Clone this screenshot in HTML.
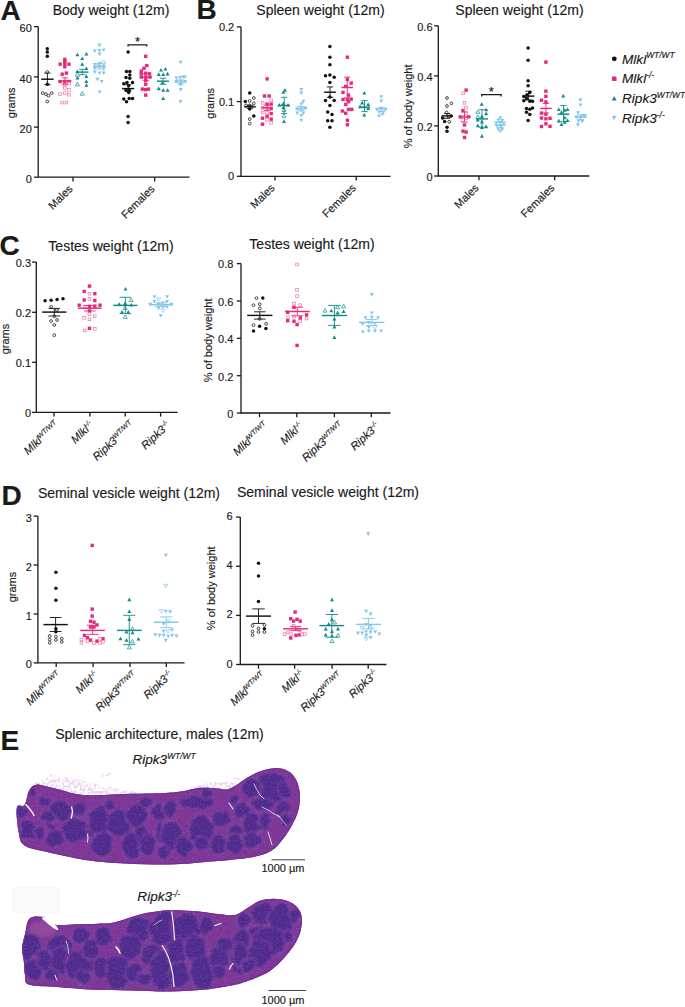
<!DOCTYPE html>
<html><head><meta charset="utf-8"><style>
html,body{margin:0;padding:0;background:#fff;}
svg{display:block;}
text{font-family:"Liberation Sans",sans-serif;stroke:#1a1a1a;stroke-width:0.15px;}
</style></head><body>
<svg width="685" height="1007" viewBox="0 0 685 1007">
<rect width="685" height="1007" fill="#fff"/>
<text x="0.5" y="19.6" font-size="28" text-anchor="start" font-weight="bold" font-style="normal" fill="#1a1a1a" >A</text>
<text x="196.5" y="19.0" font-size="28" text-anchor="start" font-weight="bold" font-style="normal" fill="#1a1a1a" >B</text>
<text x="-0.5" y="255.2" font-size="28" text-anchor="start" font-weight="bold" font-style="normal" fill="#1a1a1a" >C</text>
<text x="1.5" y="505" font-size="28" text-anchor="start" font-weight="bold" font-style="normal" fill="#1a1a1a" >D</text>
<text x="0.5" y="750" font-size="28" text-anchor="start" font-weight="bold" font-style="normal" fill="#1a1a1a" >E</text>
<text x="111" y="14.8" font-size="14" text-anchor="middle" font-weight="normal" font-style="normal" fill="#1a1a1a" >Body weight (12m)</text>
<text x="320.5" y="14.8" font-size="14" text-anchor="middle" font-weight="normal" font-style="normal" fill="#1a1a1a" >Spleen weight (12m)</text>
<text x="519.5" y="14.8" font-size="14" text-anchor="middle" font-weight="normal" font-style="normal" fill="#1a1a1a" >Spleen weight (12m)</text>
<text x="111" y="251" font-size="14" text-anchor="middle" font-weight="normal" font-style="normal" fill="#1a1a1a" >Testes weight (12m)</text>
<text x="312" y="249" font-size="14" text-anchor="middle" font-weight="normal" font-style="normal" fill="#1a1a1a" >Testes weight (12m)</text>
<text x="129" y="497.5" font-size="14" text-anchor="middle" font-weight="normal" font-style="normal" fill="#1a1a1a" >Seminal vesicle weight (12m)</text>
<text x="328" y="496.5" font-size="14" text-anchor="middle" font-weight="normal" font-style="normal" fill="#1a1a1a" >Seminal vesicle weight (12m)</text>
<text x="159.5" y="738.5" font-size="14" text-anchor="middle" font-weight="normal" font-style="normal" fill="#1a1a1a" >Splenic architecture, males (12m)</text>
<path d="M38.2 26.6V177.2H189.5" fill="none" stroke="#1a1a1a" stroke-width="1.3"/>
<path d="M34.0 26.6H38.2" stroke="#1a1a1a" stroke-width="1.3"/>
<text x="31.800000000000004" y="32.2" font-size="11" text-anchor="end" font-weight="normal" font-style="normal" fill="#1a1a1a" >60</text>
<path d="M34.0 76.9H38.2" stroke="#1a1a1a" stroke-width="1.3"/>
<text x="31.800000000000004" y="82.5" font-size="11" text-anchor="end" font-weight="normal" font-style="normal" fill="#1a1a1a" >40</text>
<path d="M34.0 127.1H38.2" stroke="#1a1a1a" stroke-width="1.3"/>
<text x="31.800000000000004" y="132.7" font-size="11" text-anchor="end" font-weight="normal" font-style="normal" fill="#1a1a1a" >20</text>
<path d="M34.0 177.2H38.2" stroke="#1a1a1a" stroke-width="1.3"/>
<text x="31.800000000000004" y="182.79999999999998" font-size="11" text-anchor="end" font-weight="normal" font-style="normal" fill="#1a1a1a" >0</text>
<path d="M73 177.2V181.39999999999998" stroke="#1a1a1a" stroke-width="1.3"/>
<path d="M154.7 177.2V181.39999999999998" stroke="#1a1a1a" stroke-width="1.3"/>
<text transform="translate(14.6,102.9) rotate(-90)" font-size="11" text-anchor="middle" fill="#1a1a1a">grams</text>
<text transform="translate(73.5,189.5) rotate(-45)" font-size="11" text-anchor="end" font-style="normal" fill="#1a1a1a">Males</text>
<text transform="translate(155.5,189.5) rotate(-45)" font-size="11" text-anchor="end" font-style="normal" fill="#1a1a1a">Females</text>
<path d="M241 26.9V176.3H390.5" fill="none" stroke="#1a1a1a" stroke-width="1.3"/>
<path d="M236.8 26.9H241" stroke="#1a1a1a" stroke-width="1.3"/>
<text x="234.2" y="30.799999999999997" font-size="11" text-anchor="end" font-weight="normal" font-style="normal" fill="#1a1a1a" >0.2</text>
<path d="M236.8 101.6H241" stroke="#1a1a1a" stroke-width="1.3"/>
<text x="234.2" y="105.5" font-size="11" text-anchor="end" font-weight="normal" font-style="normal" fill="#1a1a1a" >0.1</text>
<path d="M236.8 176.3H241" stroke="#1a1a1a" stroke-width="1.3"/>
<text x="234.2" y="180.20000000000002" font-size="11" text-anchor="end" font-weight="normal" font-style="normal" fill="#1a1a1a" >0</text>
<path d="M275 176.3V180.5" stroke="#1a1a1a" stroke-width="1.3"/>
<path d="M356.2 176.3V180.5" stroke="#1a1a1a" stroke-width="1.3"/>
<text transform="translate(213.9,103.4) rotate(-90)" font-size="11" text-anchor="middle" fill="#1a1a1a">grams</text>
<text transform="translate(275.5,188.5) rotate(-45)" font-size="11" text-anchor="end" font-style="normal" fill="#1a1a1a">Males</text>
<text transform="translate(356.7,188.5) rotate(-45)" font-size="11" text-anchor="end" font-style="normal" fill="#1a1a1a">Females</text>
<path d="M438.3 25.8V176H589.3" fill="none" stroke="#1a1a1a" stroke-width="1.3"/>
<path d="M434.1 25.8H438.3" stroke="#1a1a1a" stroke-width="1.3"/>
<text x="432.5" y="30.8" font-size="11" text-anchor="end" font-weight="normal" font-style="normal" fill="#1a1a1a" >0.6</text>
<path d="M434.1 75.9H438.3" stroke="#1a1a1a" stroke-width="1.3"/>
<text x="432.5" y="80.9" font-size="11" text-anchor="end" font-weight="normal" font-style="normal" fill="#1a1a1a" >0.4</text>
<path d="M434.1 125.9H438.3" stroke="#1a1a1a" stroke-width="1.3"/>
<text x="432.5" y="130.9" font-size="11" text-anchor="end" font-weight="normal" font-style="normal" fill="#1a1a1a" >0.2</text>
<path d="M434.1 176H438.3" stroke="#1a1a1a" stroke-width="1.3"/>
<text x="432.5" y="181.0" font-size="11" text-anchor="end" font-weight="normal" font-style="normal" fill="#1a1a1a" >0</text>
<path d="M479 176V180.2" stroke="#1a1a1a" stroke-width="1.3"/>
<path d="M554.7 176V180.2" stroke="#1a1a1a" stroke-width="1.3"/>
<text transform="translate(412,106.4) rotate(-90)" font-size="11" text-anchor="middle" fill="#1a1a1a">% of body weight</text>
<text transform="translate(479.5,188.5) rotate(-45)" font-size="11" text-anchor="end" font-style="normal" fill="#1a1a1a">Males</text>
<text transform="translate(555.2,188.5) rotate(-45)" font-size="11" text-anchor="end" font-style="normal" fill="#1a1a1a">Females</text>
<circle cx="614.3" cy="58.8" r="2.4" fill="#111"/>
<rect x="612" y="76.5" width="4.5" height="4.5" fill="#e6297a"/>
<path d="M614.2 96L616.6 100.6H611.8Z" fill="#138a8b"/>
<path d="M614.2 120.2L616.6 115.8H611.8Z" fill="#84c6e6"/>
<text x="622" y="63.7" font-size="13.6" font-style="italic" fill="#1a1a1a">Mlkl<tspan font-size="8.4" dy="-5.5">WT/WT</tspan></text>
<text x="622" y="83.4" font-size="13.6" font-style="italic" fill="#1a1a1a">Mlkl<tspan font-size="8.4" dy="-5.5">-/-</tspan></text>
<text x="622" y="103.2" font-size="13.6" font-style="italic" fill="#1a1a1a">Ripk3<tspan font-size="8.4" dy="-5.5">WT/WT</tspan></text>
<text x="622" y="123" font-size="13.6" font-style="italic" fill="#1a1a1a">Ripk3<tspan font-size="8.4" dy="-5.5">-/-</tspan></text>
<path d="M36.3 262.1V412.4H177.6" fill="none" stroke="#1a1a1a" stroke-width="1.3"/>
<path d="M32.099999999999994 262.1H36.3" stroke="#1a1a1a" stroke-width="1.3"/>
<text x="31.0" y="267.1" font-size="11" text-anchor="end" font-weight="normal" font-style="normal" fill="#1a1a1a" >0.3</text>
<path d="M32.099999999999994 312.3H36.3" stroke="#1a1a1a" stroke-width="1.3"/>
<text x="31.0" y="317.3" font-size="11" text-anchor="end" font-weight="normal" font-style="normal" fill="#1a1a1a" >0.2</text>
<path d="M32.099999999999994 362.3H36.3" stroke="#1a1a1a" stroke-width="1.3"/>
<text x="31.0" y="367.3" font-size="11" text-anchor="end" font-weight="normal" font-style="normal" fill="#1a1a1a" >0.1</text>
<path d="M32.099999999999994 412.4H36.3" stroke="#1a1a1a" stroke-width="1.3"/>
<text x="31.0" y="417.4" font-size="11" text-anchor="end" font-weight="normal" font-style="normal" fill="#1a1a1a" >0</text>
<path d="M54 412.4V416.59999999999997" stroke="#1a1a1a" stroke-width="1.3"/>
<path d="M89.9 412.4V416.59999999999997" stroke="#1a1a1a" stroke-width="1.3"/>
<path d="M125.2 412.4V416.59999999999997" stroke="#1a1a1a" stroke-width="1.3"/>
<path d="M160.6 412.4V416.59999999999997" stroke="#1a1a1a" stroke-width="1.3"/>
<text transform="translate(8.7,339) rotate(-90)" font-size="11" text-anchor="middle" fill="#1a1a1a">grams</text>
<text transform="translate(59.5,426) rotate(-43)" font-size="11.2" text-anchor="end" font-style="italic" fill="#1a1a1a">Mlkl<tspan font-size="6.8" dy="-4.2">WT/WT</tspan></text>
<text transform="translate(94.4,426) rotate(-43)" font-size="11.2" text-anchor="end" font-style="italic" fill="#1a1a1a">Mlkl<tspan font-size="6.8" dy="-4.2">-/-</tspan></text>
<text transform="translate(134.7,426) rotate(-43)" font-size="11.2" text-anchor="end" font-style="italic" fill="#1a1a1a">Ripk3<tspan font-size="6.8" dy="-4.2">WT/WT</tspan></text>
<text transform="translate(171.1,426) rotate(-43)" font-size="11.2" text-anchor="end" font-style="italic" fill="#1a1a1a">Ripk3<tspan font-size="6.8" dy="-4.2">-/-</tspan></text>
<path d="M241 263.6V413H390.5" fill="none" stroke="#1a1a1a" stroke-width="1.3"/>
<path d="M236.8 263.6H241" stroke="#1a1a1a" stroke-width="1.3"/>
<text x="233.39999999999998" y="268.40000000000003" font-size="11" text-anchor="end" font-weight="normal" font-style="normal" fill="#1a1a1a" >0.8</text>
<path d="M236.8 301H241" stroke="#1a1a1a" stroke-width="1.3"/>
<text x="233.39999999999998" y="305.8" font-size="11" text-anchor="end" font-weight="normal" font-style="normal" fill="#1a1a1a" >0.6</text>
<path d="M236.8 338.3H241" stroke="#1a1a1a" stroke-width="1.3"/>
<text x="233.39999999999998" y="343.1" font-size="11" text-anchor="end" font-weight="normal" font-style="normal" fill="#1a1a1a" >0.4</text>
<path d="M236.8 375.7H241" stroke="#1a1a1a" stroke-width="1.3"/>
<text x="233.39999999999998" y="380.5" font-size="11" text-anchor="end" font-weight="normal" font-style="normal" fill="#1a1a1a" >0.2</text>
<path d="M236.8 413H241" stroke="#1a1a1a" stroke-width="1.3"/>
<text x="233.39999999999998" y="417.8" font-size="11" text-anchor="end" font-weight="normal" font-style="normal" fill="#1a1a1a" >0</text>
<path d="M259.5 413V417.2" stroke="#1a1a1a" stroke-width="1.3"/>
<path d="M296.8 413V417.2" stroke="#1a1a1a" stroke-width="1.3"/>
<path d="M334.4 413V417.2" stroke="#1a1a1a" stroke-width="1.3"/>
<path d="M371.3 413V417.2" stroke="#1a1a1a" stroke-width="1.3"/>
<text transform="translate(212,340.4) rotate(-90)" font-size="11" text-anchor="middle" fill="#1a1a1a">% of body weight</text>
<text transform="translate(268.7,427) rotate(-43)" font-size="11.2" text-anchor="end" font-style="italic" fill="#1a1a1a">Mlkl<tspan font-size="6.8" dy="-4.2">WT/WT</tspan></text>
<text transform="translate(303.8,427) rotate(-43)" font-size="11.2" text-anchor="end" font-style="italic" fill="#1a1a1a">Mlkl<tspan font-size="6.8" dy="-4.2">-/-</tspan></text>
<text transform="translate(343.9,427) rotate(-43)" font-size="11.2" text-anchor="end" font-style="italic" fill="#1a1a1a">Ripk3<tspan font-size="6.8" dy="-4.2">WT/WT</tspan></text>
<text transform="translate(380.3,427) rotate(-43)" font-size="11.2" text-anchor="end" font-style="italic" fill="#1a1a1a">Ripk3<tspan font-size="6.8" dy="-4.2">-/-</tspan></text>
<path d="M37.9 516.1V662.9H184.6" fill="none" stroke="#1a1a1a" stroke-width="1.3"/>
<path d="M33.699999999999996 516.1H37.9" stroke="#1a1a1a" stroke-width="1.3"/>
<text x="31.8" y="521.6" font-size="11" text-anchor="end" font-weight="normal" font-style="normal" fill="#1a1a1a" >3</text>
<path d="M33.699999999999996 565H37.9" stroke="#1a1a1a" stroke-width="1.3"/>
<text x="31.8" y="570.5" font-size="11" text-anchor="end" font-weight="normal" font-style="normal" fill="#1a1a1a" >2</text>
<path d="M33.699999999999996 614H37.9" stroke="#1a1a1a" stroke-width="1.3"/>
<text x="31.8" y="619.5" font-size="11" text-anchor="end" font-weight="normal" font-style="normal" fill="#1a1a1a" >1</text>
<path d="M33.699999999999996 662.9H37.9" stroke="#1a1a1a" stroke-width="1.3"/>
<text x="31.8" y="668.4" font-size="11" text-anchor="end" font-weight="normal" font-style="normal" fill="#1a1a1a" >0</text>
<path d="M56.2 662.9V667.1" stroke="#1a1a1a" stroke-width="1.3"/>
<path d="M93.1 662.9V667.1" stroke="#1a1a1a" stroke-width="1.3"/>
<path d="M130 662.9V667.1" stroke="#1a1a1a" stroke-width="1.3"/>
<path d="M166.3 662.9V667.1" stroke="#1a1a1a" stroke-width="1.3"/>
<text transform="translate(16.2,587) rotate(-90)" font-size="11" text-anchor="middle" fill="#1a1a1a">grams</text>
<text transform="translate(61.7,676.5) rotate(-43)" font-size="11.2" text-anchor="end" font-style="italic" fill="#1a1a1a">Mlkl<tspan font-size="6.8" dy="-4.2">WT/WT</tspan></text>
<text transform="translate(99.1,676) rotate(-43)" font-size="11.2" text-anchor="end" font-style="italic" fill="#1a1a1a">Mlkl<tspan font-size="6.8" dy="-4.2">-/-</tspan></text>
<text transform="translate(137.5,676.5) rotate(-43)" font-size="11.2" text-anchor="end" font-style="italic" fill="#1a1a1a">Ripk3<tspan font-size="6.8" dy="-4.2">WT/WT</tspan></text>
<text transform="translate(173.3,675.5) rotate(-43)" font-size="11.2" text-anchor="end" font-style="italic" fill="#1a1a1a">Ripk3<tspan font-size="6.8" dy="-4.2">-/-</tspan></text>
<path d="M240.3 517.1V664.5H386.4" fill="none" stroke="#1a1a1a" stroke-width="1.3"/>
<path d="M236.10000000000002 517.1H240.3" stroke="#1a1a1a" stroke-width="1.3"/>
<text x="232.7" y="520.1" font-size="11" text-anchor="end" font-weight="normal" font-style="normal" fill="#1a1a1a" >6</text>
<path d="M236.10000000000002 566.25H240.3" stroke="#1a1a1a" stroke-width="1.3"/>
<text x="232.7" y="569.25" font-size="11" text-anchor="end" font-weight="normal" font-style="normal" fill="#1a1a1a" >4</text>
<path d="M236.10000000000002 615.4H240.3" stroke="#1a1a1a" stroke-width="1.3"/>
<text x="232.7" y="618.4" font-size="11" text-anchor="end" font-weight="normal" font-style="normal" fill="#1a1a1a" >2</text>
<path d="M236.10000000000002 664.5H240.3" stroke="#1a1a1a" stroke-width="1.3"/>
<text x="232.7" y="667.5" font-size="11" text-anchor="end" font-weight="normal" font-style="normal" fill="#1a1a1a" >0</text>
<path d="M258.5 664.5V668.7" stroke="#1a1a1a" stroke-width="1.3"/>
<path d="M294.6 664.5V668.7" stroke="#1a1a1a" stroke-width="1.3"/>
<path d="M332.1 664.5V668.7" stroke="#1a1a1a" stroke-width="1.3"/>
<path d="M368.2 664.5V668.7" stroke="#1a1a1a" stroke-width="1.3"/>
<text transform="translate(214.5,588.3) rotate(-90)" font-size="11" text-anchor="middle" fill="#1a1a1a">% of body weight</text>
<text transform="translate(266.0,677) rotate(-43)" font-size="11.2" text-anchor="end" font-style="italic" fill="#1a1a1a">Mlkl<tspan font-size="6.8" dy="-4.2">WT/WT</tspan></text>
<text transform="translate(305.1,675) rotate(-43)" font-size="11.2" text-anchor="end" font-style="italic" fill="#1a1a1a">Mlkl<tspan font-size="6.8" dy="-4.2">-/-</tspan></text>
<text transform="translate(342.6,677) rotate(-43)" font-size="11.2" text-anchor="end" font-style="italic" fill="#1a1a1a">Ripk3<tspan font-size="6.8" dy="-4.2">WT/WT</tspan></text>
<text transform="translate(378.7,674.5) rotate(-43)" font-size="11.2" text-anchor="end" font-style="italic" fill="#1a1a1a">Ripk3<tspan font-size="6.8" dy="-4.2">-/-</tspan></text>
<circle cx="47.3" cy="48.7" r="1.75" fill="#111"/>
<circle cx="47.3" cy="52.1" r="1.75" fill="#111"/>
<circle cx="47.3" cy="56.3" r="1.75" fill="#111"/>
<circle cx="47.3" cy="84.2" r="1.75" fill="#111"/>
<circle cx="47.3" cy="72.1" r="1.40" fill="#fff" stroke="#111" stroke-width="0.75"/>
<circle cx="42.7" cy="93.1" r="1.40" fill="#fff" stroke="#111" stroke-width="0.75"/>
<circle cx="45.9" cy="94.1" r="1.40" fill="#fff" stroke="#111" stroke-width="0.75"/>
<circle cx="48.5" cy="95.7" r="1.40" fill="#fff" stroke="#111" stroke-width="0.75"/>
<circle cx="51.7" cy="93.1" r="1.40" fill="#fff" stroke="#111" stroke-width="0.75"/>
<circle cx="47.3" cy="101.5" r="1.40" fill="#fff" stroke="#111" stroke-width="0.75"/>
<path d="M41.2 79.2H53.6" stroke="#111" stroke-width="1.45"/>
<path d="M47.400000000000006 73.1V84.7M44.2 73.1H50.60000000000001M44.2 84.7H50.60000000000001" stroke="#111" stroke-width="0.9" fill="none"/>
<rect x="63.1" y="57.7" width="3.4" height="3.4" fill="#e6297a"/>
<rect x="63.1" y="59.8" width="3.4" height="3.4" fill="#e6297a"/>
<rect x="58.4" y="62.5" width="3.4" height="3.4" fill="#e6297a"/>
<rect x="63.1" y="62.5" width="3.4" height="3.4" fill="#e6297a"/>
<rect x="67.3" y="62.5" width="3.4" height="3.4" fill="#e6297a"/>
<rect x="63.1" y="65.1" width="3.4" height="3.4" fill="#e6297a"/>
<rect x="60.5" y="72.5" width="3.4" height="3.4" fill="#e6297a"/>
<rect x="64.7" y="71.4" width="3.4" height="3.4" fill="#e6297a"/>
<rect x="58.4" y="79.8" width="3.4" height="3.4" fill="#e6297a"/>
<rect x="63.1" y="79.8" width="3.4" height="3.4" fill="#e6297a"/>
<rect x="67.3" y="79.8" width="3.4" height="3.4" fill="#e6297a"/>
<rect x="63.4" y="83.2" width="2.7" height="2.7" fill="#fff" stroke="#ee72a4" stroke-width="0.7"/>
<rect x="67.6" y="82.2" width="2.7" height="2.7" fill="#fff" stroke="#ee72a4" stroke-width="0.7"/>
<rect x="63.4" y="86.6" width="2.7" height="2.7" fill="#fff" stroke="#ee72a4" stroke-width="0.7"/>
<rect x="67.6" y="88.6" width="2.7" height="2.7" fill="#fff" stroke="#ee72a4" stroke-width="0.7"/>
<rect x="58.7" y="92.7" width="2.7" height="2.7" fill="#fff" stroke="#ee72a4" stroke-width="0.7"/>
<rect x="63.4" y="91.7" width="2.7" height="2.7" fill="#fff" stroke="#ee72a4" stroke-width="0.7"/>
<rect x="67.6" y="93.3" width="2.7" height="2.7" fill="#fff" stroke="#ee72a4" stroke-width="0.7"/>
<rect x="60.8" y="101.2" width="2.7" height="2.7" fill="#fff" stroke="#ee72a4" stroke-width="0.7"/>
<rect x="65.0" y="101.2" width="2.7" height="2.7" fill="#fff" stroke="#ee72a4" stroke-width="0.7"/>
<path d="M58.5 81H71.5" stroke="#e6297a" stroke-width="1.45"/>
<path d="M65.0 77.8V84.2M61.8 77.8H68.2M61.8 84.2H68.2" stroke="#e6297a" stroke-width="0.9" fill="none"/>
<path d="M77.4 52.7L79.4 56.3L75.4 56.3Z" fill="#138a8b"/>
<path d="M86.4 52.0L88.4 55.6L84.4 55.6Z" fill="#138a8b"/>
<path d="M82.2 56.4L84.2 60.0L80.2 60.0Z" fill="#138a8b"/>
<path d="M82.2 62.2L84.2 65.8L80.2 65.8Z" fill="#138a8b"/>
<path d="M86.4 66.4L88.4 70.0L84.4 70.0Z" fill="#138a8b"/>
<path d="M77.4 69.5L79.4 73.1L75.4 73.1Z" fill="#138a8b"/>
<path d="M86.4 74.3L88.4 77.9L84.4 77.9Z" fill="#138a8b"/>
<path d="M77.4 75.8L79.4 79.4L75.4 79.4Z" fill="#138a8b"/>
<path d="M86.4 79.5L88.4 83.1L84.4 83.1Z" fill="#138a8b"/>
<path d="M86.4 83.2L88.4 86.8L84.4 86.8Z" fill="#138a8b"/>
<path d="M77.4 72.6L79.4 76.2L75.4 76.2Z" fill="#fff" stroke="#138a8b" stroke-width="0.7"/>
<path d="M77.4 82.2L79.4 85.8L75.4 85.8Z" fill="#fff" stroke="#138a8b" stroke-width="0.7"/>
<path d="M82.2 91.6L84.2 95.2L80.2 95.2Z" fill="#fff" stroke="#138a8b" stroke-width="0.7"/>
<path d="M76.2 72.1H88.5" stroke="#138a8b" stroke-width="1.45"/>
<path d="M82.35 69.4V74.7M79.14999999999999 69.4H85.55M79.14999999999999 74.7H85.55" stroke="#138a8b" stroke-width="0.9" fill="none"/>
<path d="M99.5 47.2L101.5 43.6L97.5 43.6Z" fill="#84c6e6"/>
<path d="M94.8 53.0L96.8 49.4L92.8 49.4Z" fill="#84c6e6"/>
<path d="M99.5 52.5L101.5 48.9L97.5 48.9Z" fill="#84c6e6"/>
<path d="M103.7 52.0L105.7 48.4L101.7 48.4Z" fill="#84c6e6"/>
<path d="M99.5 56.2L101.5 52.6L97.5 52.6Z" fill="#84c6e6"/>
<path d="M94.8 66.7L96.8 63.1L92.8 63.1Z" fill="#84c6e6"/>
<path d="M99.5 65.6L101.5 62.0L97.5 62.0Z" fill="#84c6e6"/>
<path d="M103.7 66.7L105.7 63.1L101.7 63.1Z" fill="#84c6e6"/>
<path d="M94.8 70.4L96.8 66.8L92.8 66.8Z" fill="#84c6e6"/>
<path d="M103.7 70.9L105.7 67.3L101.7 67.3Z" fill="#84c6e6"/>
<path d="M94.8 74.1L96.8 70.5L92.8 70.5Z" fill="#84c6e6"/>
<path d="M99.5 75.1L101.5 71.5L97.5 71.5Z" fill="#84c6e6"/>
<path d="M103.7 75.1L105.7 71.5L101.7 71.5Z" fill="#84c6e6"/>
<path d="M97.4 81.4L99.4 77.8L95.4 77.8Z" fill="#84c6e6"/>
<path d="M101.6 83.5L103.6 79.9L99.6 79.9Z" fill="#84c6e6"/>
<path d="M99.5 94.0L101.5 90.4L97.5 90.4Z" fill="#84c6e6"/>
<path d="M103.7 64.6L105.7 61.0L101.7 61.0Z" fill="#fff" stroke="#84c6e6" stroke-width="0.7"/>
<path d="M99.5 69.0L101.5 65.4L97.5 65.4Z" fill="#fff" stroke="#84c6e6" stroke-width="0.7"/>
<path d="M96.5 68.0L98.5 64.4L94.5 64.4Z" fill="#fff" stroke="#84c6e6" stroke-width="0.7"/>
<path d="M93.3 66.3H105.7" stroke="#84c6e6" stroke-width="1.45"/>
<path d="M99.5 63.6V68.9M96.3 63.6H102.7M96.3 68.9H102.7" stroke="#84c6e6" stroke-width="0.9" fill="none"/>
<circle cx="128.1" cy="51.9" r="1.75" fill="#111"/>
<circle cx="126.5" cy="71.6" r="1.75" fill="#111"/>
<circle cx="129.8" cy="71.6" r="1.75" fill="#111"/>
<circle cx="129.8" cy="74.9" r="1.75" fill="#111"/>
<circle cx="126.0" cy="77.6" r="1.75" fill="#111"/>
<circle cx="129.8" cy="78.2" r="1.75" fill="#111"/>
<circle cx="123.8" cy="83.7" r="1.75" fill="#111"/>
<circle cx="127.0" cy="82.6" r="1.75" fill="#111"/>
<circle cx="132.5" cy="82.6" r="1.75" fill="#111"/>
<circle cx="128.7" cy="85.8" r="1.75" fill="#111"/>
<circle cx="126.0" cy="90.2" r="1.75" fill="#111"/>
<circle cx="129.2" cy="90.2" r="1.75" fill="#111"/>
<circle cx="128.7" cy="92.4" r="1.75" fill="#111"/>
<circle cx="123.8" cy="99.0" r="1.75" fill="#111"/>
<circle cx="129.2" cy="98.4" r="1.75" fill="#111"/>
<circle cx="132.5" cy="98.4" r="1.75" fill="#111"/>
<circle cx="126.5" cy="101.7" r="1.75" fill="#111"/>
<circle cx="128.1" cy="116.5" r="1.75" fill="#111"/>
<circle cx="128.1" cy="122.5" r="1.75" fill="#111"/>
<path d="M122.1 88.6H134.2" stroke="#111" stroke-width="1.45"/>
<path d="M128.14999999999998 84.7V91.3M124.94999999999997 84.7H131.34999999999997M124.94999999999997 91.3H131.34999999999997" stroke="#111" stroke-width="0.9" fill="none"/>
<rect x="144.0" y="54.6" width="3.4" height="3.4" fill="#e6297a"/>
<rect x="145.1" y="63.9" width="3.4" height="3.4" fill="#e6297a"/>
<rect x="142.3" y="66.6" width="3.4" height="3.4" fill="#e6297a"/>
<rect x="139.6" y="69.4" width="3.4" height="3.4" fill="#e6297a"/>
<rect x="139.6" y="72.1" width="3.4" height="3.4" fill="#e6297a"/>
<rect x="144.0" y="71.5" width="3.4" height="3.4" fill="#e6297a"/>
<rect x="147.8" y="72.1" width="3.4" height="3.4" fill="#e6297a"/>
<rect x="139.6" y="75.4" width="3.4" height="3.4" fill="#e6297a"/>
<rect x="144.0" y="75.4" width="3.4" height="3.4" fill="#e6297a"/>
<rect x="148.3" y="75.4" width="3.4" height="3.4" fill="#e6297a"/>
<rect x="144.0" y="78.7" width="3.4" height="3.4" fill="#e6297a"/>
<rect x="144.0" y="82.5" width="3.4" height="3.4" fill="#e6297a"/>
<rect x="140.7" y="87.4" width="3.4" height="3.4" fill="#e6297a"/>
<rect x="144.0" y="88.0" width="3.4" height="3.4" fill="#e6297a"/>
<rect x="146.7" y="87.4" width="3.4" height="3.4" fill="#e6297a"/>
<rect x="144.0" y="93.4" width="3.4" height="3.4" fill="#e6297a"/>
<path d="M140.5 77.1H151.5" stroke="#e6297a" stroke-width="1.45"/>
<path d="M146.0 73.8V80.4M142.8 73.8H149.2M142.8 80.4H149.2" stroke="#e6297a" stroke-width="0.9" fill="none"/>
<path d="M161.0 68.0L163.0 71.6L159.0 71.6Z" fill="#138a8b"/>
<path d="M165.4 66.9L167.4 70.5L163.4 70.5Z" fill="#138a8b"/>
<path d="M158.8 72.3L160.8 75.9L156.8 75.9Z" fill="#138a8b"/>
<path d="M163.2 72.3L165.2 75.9L161.2 75.9Z" fill="#138a8b"/>
<path d="M167.6 71.8L169.6 75.4L165.6 75.4Z" fill="#138a8b"/>
<path d="M162.6 80.6L164.6 84.2L160.6 84.2Z" fill="#138a8b"/>
<path d="M158.8 86.6L160.8 90.2L156.8 90.2Z" fill="#138a8b"/>
<path d="M163.2 88.2L165.2 91.8L161.2 91.8Z" fill="#138a8b"/>
<path d="M167.6 88.2L169.6 91.8L165.6 91.8Z" fill="#138a8b"/>
<path d="M163.2 96.4L165.2 100.0L161.2 100.0Z" fill="#138a8b"/>
<path d="M157 81.2H169" stroke="#138a8b" stroke-width="1.45"/>
<path d="M163.0 78.2V84.2M159.8 78.2H166.2M159.8 84.2H166.2" stroke="#138a8b" stroke-width="0.9" fill="none"/>
<path d="M180.5 64.3L182.5 60.7L178.5 60.7Z" fill="#84c6e6"/>
<path d="M176.3 80.2L178.3 76.6L174.3 76.6Z" fill="#84c6e6"/>
<path d="M180.0 79.5L182.0 75.9L178.0 75.9Z" fill="#84c6e6"/>
<path d="M182.9 79.1L184.9 75.5L180.9 75.5Z" fill="#84c6e6"/>
<path d="M185.0 79.1L187.0 75.5L183.0 75.5Z" fill="#84c6e6"/>
<path d="M176.3 83.5L178.3 79.9L174.3 79.9Z" fill="#84c6e6"/>
<path d="M180.7 83.5L182.7 79.9L178.7 79.9Z" fill="#84c6e6"/>
<path d="M185.0 83.5L187.0 79.9L183.0 79.9Z" fill="#84c6e6"/>
<path d="M180.7 86.7L182.7 83.1L178.7 83.1Z" fill="#84c6e6"/>
<path d="M180.7 91.7L182.7 88.1L178.7 88.1Z" fill="#84c6e6"/>
<path d="M180.5 103.7L182.5 100.1L178.5 100.1Z" fill="#84c6e6"/>
<path d="M174.5 82H186.5" stroke="#84c6e6" stroke-width="1.45"/>
<path d="M180.5 79.8V84.2M177.3 79.8H183.7M177.3 84.2H183.7" stroke="#84c6e6" stroke-width="0.9" fill="none"/>
<path d="M128.1 46.599999999999994V44.8H146.8V46.599999999999994" fill="none" stroke="#1a1a1a" stroke-width="1.3"/>
<text x="137.45" y="46.099999999999994" font-size="13" text-anchor="middle" font-weight="normal" font-style="normal" fill="#1a1a1a" >*</text>
<circle cx="249.7" cy="92.9" r="1.75" fill="#111"/>
<circle cx="245.3" cy="101.4" r="1.75" fill="#111"/>
<circle cx="249.7" cy="109.0" r="1.75" fill="#111"/>
<circle cx="253.8" cy="116.0" r="1.75" fill="#111"/>
<circle cx="253.8" cy="98.0" r="1.40" fill="#fff" stroke="#111" stroke-width="0.75"/>
<circle cx="249.7" cy="100.9" r="1.40" fill="#fff" stroke="#111" stroke-width="0.75"/>
<circle cx="253.8" cy="103.4" r="1.40" fill="#fff" stroke="#111" stroke-width="0.75"/>
<circle cx="246.1" cy="105.5" r="1.40" fill="#fff" stroke="#111" stroke-width="0.75"/>
<circle cx="249.7" cy="105.5" r="1.40" fill="#fff" stroke="#111" stroke-width="0.75"/>
<circle cx="249.7" cy="119.1" r="1.40" fill="#fff" stroke="#111" stroke-width="0.75"/>
<circle cx="249.7" cy="123.6" r="1.40" fill="#fff" stroke="#111" stroke-width="0.75"/>
<path d="M244.1 106.8H255.8" stroke="#111" stroke-width="1.45"/>
<path d="M249.95 105.3V108.3M246.75 105.3H253.14999999999998M246.75 108.3H253.14999999999998" stroke="#111" stroke-width="0.9" fill="none"/>
<rect x="265.4" y="77.2" width="3.4" height="3.4" fill="#e6297a"/>
<rect x="262.8" y="94.3" width="3.4" height="3.4" fill="#e6297a"/>
<rect x="267.4" y="94.3" width="3.4" height="3.4" fill="#e6297a"/>
<rect x="265.4" y="102.4" width="3.4" height="3.4" fill="#e6297a"/>
<rect x="269.5" y="102.4" width="3.4" height="3.4" fill="#e6297a"/>
<rect x="269.5" y="106.8" width="3.4" height="3.4" fill="#e6297a"/>
<rect x="269.5" y="111.9" width="3.4" height="3.4" fill="#e6297a"/>
<rect x="265.4" y="114.5" width="3.4" height="3.4" fill="#e6297a"/>
<rect x="260.8" y="116.5" width="3.4" height="3.4" fill="#e6297a"/>
<rect x="269.5" y="117.4" width="3.4" height="3.4" fill="#e6297a"/>
<rect x="260.8" y="122.5" width="3.4" height="3.4" fill="#e6297a"/>
<rect x="269.8" y="99.0" width="2.7" height="2.7" fill="#fff" stroke="#ee72a4" stroke-width="0.7"/>
<rect x="261.3" y="101.5" width="2.7" height="2.7" fill="#fff" stroke="#ee72a4" stroke-width="0.7"/>
<rect x="261.3" y="106.6" width="2.7" height="2.7" fill="#fff" stroke="#ee72a4" stroke-width="0.7"/>
<rect x="265.7" y="107.1" width="2.7" height="2.7" fill="#fff" stroke="#ee72a4" stroke-width="0.7"/>
<rect x="261.3" y="111.2" width="2.7" height="2.7" fill="#fff" stroke="#ee72a4" stroke-width="0.7"/>
<rect x="265.7" y="111.2" width="2.7" height="2.7" fill="#fff" stroke="#ee72a4" stroke-width="0.7"/>
<rect x="265.7" y="118.4" width="2.7" height="2.7" fill="#fff" stroke="#ee72a4" stroke-width="0.7"/>
<rect x="269.8" y="121.4" width="2.7" height="2.7" fill="#fff" stroke="#ee72a4" stroke-width="0.7"/>
<path d="M261.5 107.8H273" stroke="#e6297a" stroke-width="1.45"/>
<path d="M267.25 105V110.6M264.05 105H270.45M264.05 110.6H270.45" stroke="#e6297a" stroke-width="0.9" fill="none"/>
<path d="M285.0 88.1L287.0 91.7L283.0 91.7Z" fill="#138a8b"/>
<path d="M283.4 90.2L285.4 93.8L281.4 93.8Z" fill="#138a8b"/>
<path d="M283.4 101.4L285.4 105.0L281.4 105.0Z" fill="#138a8b"/>
<path d="M279.3 103.0L281.3 106.6L277.3 106.6Z" fill="#138a8b"/>
<path d="M288.0 103.0L290.0 106.6L286.0 106.6Z" fill="#138a8b"/>
<path d="M283.4 105.5L285.4 109.1L281.4 109.1Z" fill="#138a8b"/>
<path d="M284.0 119.3L286.0 122.9L282.0 122.9Z" fill="#138a8b"/>
<path d="M284.0 113.7L286.0 117.3L282.0 117.3Z" fill="#fff" stroke="#138a8b" stroke-width="0.7"/>
<path d="M284.0 108.0L286.0 111.6L282.0 111.6Z" fill="#fff" stroke="#138a8b" stroke-width="0.7"/>
<path d="M278.5 105.5H290" stroke="#138a8b" stroke-width="1.45"/>
<path d="M284.25 97.3V113.6M281.05 97.3H287.45M281.05 113.6H287.45" stroke="#138a8b" stroke-width="0.9" fill="none"/>
<path d="M301.3 91.6L303.3 88.0L299.3 88.0Z" fill="#84c6e6"/>
<path d="M301.3 95.2L303.3 91.6L299.3 91.6Z" fill="#84c6e6"/>
<path d="M303.4 103.4L305.4 99.8L301.4 99.8Z" fill="#84c6e6"/>
<path d="M301.3 106.0L303.3 102.4L299.3 102.4Z" fill="#84c6e6"/>
<path d="M297.2 111.0L299.2 107.4L295.2 107.4Z" fill="#84c6e6"/>
<path d="M305.4 110.0L307.4 106.4L303.4 106.4Z" fill="#84c6e6"/>
<path d="M303.4 115.1L305.4 111.5L301.4 111.5Z" fill="#84c6e6"/>
<path d="M297.2 115.1L299.2 111.5L295.2 111.5Z" fill="#84c6e6"/>
<path d="M301.3 117.7L303.3 114.1L299.3 114.1Z" fill="#84c6e6"/>
<path d="M301.3 122.3L303.3 118.7L299.3 118.7Z" fill="#84c6e6"/>
<path d="M299.3 110.0L301.3 106.4L297.3 106.4Z" fill="#fff" stroke="#84c6e6" stroke-width="0.7"/>
<path d="M302.5 110.0L304.5 106.4L300.5 106.4Z" fill="#fff" stroke="#84c6e6" stroke-width="0.7"/>
<path d="M301.3 112.1L303.3 108.5L299.3 108.5Z" fill="#fff" stroke="#84c6e6" stroke-width="0.7"/>
<path d="M295.5 108.5H307" stroke="#84c6e6" stroke-width="1.45"/>
<path d="M301.25 106.5V110.6M298.05 106.5H304.45M298.05 110.6H304.45" stroke="#84c6e6" stroke-width="0.9" fill="none"/>
<circle cx="329.9" cy="46.6" r="1.75" fill="#111"/>
<circle cx="329.9" cy="57.2" r="1.75" fill="#111"/>
<circle cx="329.9" cy="64.8" r="1.75" fill="#111"/>
<circle cx="325.5" cy="75.8" r="1.75" fill="#111"/>
<circle cx="329.9" cy="74.9" r="1.75" fill="#111"/>
<circle cx="334.2" cy="77.3" r="1.75" fill="#111"/>
<circle cx="329.9" cy="82.6" r="1.75" fill="#111"/>
<circle cx="329.9" cy="97.0" r="1.75" fill="#111"/>
<circle cx="325.5" cy="100.6" r="1.75" fill="#111"/>
<circle cx="334.2" cy="100.6" r="1.75" fill="#111"/>
<circle cx="329.9" cy="105.5" r="1.75" fill="#111"/>
<circle cx="327.7" cy="112.1" r="1.75" fill="#111"/>
<circle cx="332.0" cy="114.5" r="1.75" fill="#111"/>
<circle cx="327.7" cy="120.7" r="1.75" fill="#111"/>
<circle cx="332.0" cy="120.7" r="1.75" fill="#111"/>
<circle cx="329.9" cy="127.2" r="1.75" fill="#111"/>
<path d="M324.2 92.2H335.9" stroke="#111" stroke-width="1.45"/>
<path d="M330.04999999999995 86.9V97.3M326.84999999999997 86.9H333.24999999999994M326.84999999999997 97.3H333.24999999999994" stroke="#111" stroke-width="0.9" fill="none"/>
<rect x="345.7" y="55.5" width="3.4" height="3.4" fill="#e6297a"/>
<rect x="345.7" y="77.8" width="3.4" height="3.4" fill="#e6297a"/>
<rect x="349.5" y="81.4" width="3.4" height="3.4" fill="#e6297a"/>
<rect x="344.0" y="84.7" width="3.4" height="3.4" fill="#e6297a"/>
<rect x="341.3" y="90.7" width="3.4" height="3.4" fill="#e6297a"/>
<rect x="346.8" y="93.4" width="3.4" height="3.4" fill="#e6297a"/>
<rect x="341.3" y="97.8" width="3.4" height="3.4" fill="#e6297a"/>
<rect x="345.7" y="97.8" width="3.4" height="3.4" fill="#e6297a"/>
<rect x="349.5" y="97.5" width="3.4" height="3.4" fill="#e6297a"/>
<rect x="344.0" y="102.8" width="3.4" height="3.4" fill="#e6297a"/>
<rect x="346.8" y="100.0" width="3.4" height="3.4" fill="#e6297a"/>
<rect x="340.7" y="109.3" width="3.4" height="3.4" fill="#e6297a"/>
<rect x="346.8" y="107.7" width="3.4" height="3.4" fill="#e6297a"/>
<rect x="350.1" y="107.7" width="3.4" height="3.4" fill="#e6297a"/>
<rect x="344.0" y="111.5" width="3.4" height="3.4" fill="#e6297a"/>
<rect x="345.7" y="118.6" width="3.4" height="3.4" fill="#e6297a"/>
<rect x="345.7" y="123.0" width="3.4" height="3.4" fill="#e6297a"/>
<path d="M341.5 87.5H353" stroke="#e6297a" stroke-width="1.45"/>
<path d="M347.25 77.1V97.9M344.05 77.1H350.45M344.05 97.9H350.45" stroke="#e6297a" stroke-width="0.9" fill="none"/>
<path d="M364.3 91.0L366.3 94.6L362.3 94.6Z" fill="#138a8b"/>
<path d="M362.2 100.8L364.2 104.4L360.2 104.4Z" fill="#138a8b"/>
<path d="M368.2 102.5L370.2 106.1L366.2 106.1Z" fill="#138a8b"/>
<path d="M360.0 104.6L362.0 108.2L358.0 108.2Z" fill="#138a8b"/>
<path d="M364.3 104.6L366.3 108.2L362.3 108.2Z" fill="#138a8b"/>
<path d="M368.2 106.3L370.2 109.9L366.2 109.9Z" fill="#138a8b"/>
<path d="M364.3 112.9L366.3 116.5L362.3 116.5Z" fill="#138a8b"/>
<path d="M359 107.2H370" stroke="#138a8b" stroke-width="1.45"/>
<path d="M364.5 100.6V111.6M361.3 100.6H367.7M361.3 111.6H367.7" stroke="#138a8b" stroke-width="0.9" fill="none"/>
<path d="M381.3 98.8L383.3 95.2L379.3 95.2Z" fill="#84c6e6"/>
<path d="M381.3 103.2L383.3 99.6L379.3 99.6Z" fill="#84c6e6"/>
<path d="M376.9 111.4L378.9 107.8L374.9 107.8Z" fill="#84c6e6"/>
<path d="M381.3 110.8L383.3 107.2L379.3 107.2Z" fill="#84c6e6"/>
<path d="M385.7 111.4L387.7 107.8L383.7 107.8Z" fill="#84c6e6"/>
<path d="M379.1 114.1L381.1 110.5L377.1 110.5Z" fill="#84c6e6"/>
<path d="M383.5 114.1L385.5 110.5L381.5 110.5Z" fill="#84c6e6"/>
<path d="M379.1 118.0L381.1 114.4L377.1 114.4Z" fill="#84c6e6"/>
<path d="M382.4 116.3L384.4 112.7L380.4 112.7Z" fill="#84c6e6"/>
<path d="M376 108.8H387" stroke="#84c6e6" stroke-width="1.45"/>
<path d="M381.5 107.2V111.6M378.3 107.2H384.7M378.3 111.6H384.7" stroke="#84c6e6" stroke-width="0.9" fill="none"/>
<circle cx="447.0" cy="98.0" r="1.40" fill="#fff" stroke="#111" stroke-width="0.75"/>
<circle cx="451.4" cy="103.4" r="1.40" fill="#fff" stroke="#111" stroke-width="0.75"/>
<circle cx="447.0" cy="106.0" r="1.40" fill="#fff" stroke="#111" stroke-width="0.75"/>
<circle cx="446.6" cy="112.6" r="1.40" fill="#fff" stroke="#111" stroke-width="0.75"/>
<circle cx="449.2" cy="116.4" r="1.40" fill="#fff" stroke="#111" stroke-width="0.75"/>
<circle cx="449.2" cy="121.8" r="1.40" fill="#fff" stroke="#111" stroke-width="0.75"/>
<circle cx="442.6" cy="117.9" r="1.75" fill="#111"/>
<circle cx="444.6" cy="121.5" r="1.75" fill="#111"/>
<circle cx="447.0" cy="127.3" r="1.75" fill="#111"/>
<circle cx="447.0" cy="131.2" r="1.75" fill="#111"/>
<circle cx="451.2" cy="115.9" r="1.75" fill="#111"/>
<path d="M441.5 115.9H452.8" stroke="#111" stroke-width="1.45"/>
<path d="M447.15 113.5V118.3M443.95 113.5H450.34999999999997M443.95 118.3H450.34999999999997" stroke="#111" stroke-width="0.9" fill="none"/>
<rect x="464.4" y="88.4" width="3.4" height="3.4" fill="#e6297a"/>
<rect x="461.3" y="108.9" width="3.4" height="3.4" fill="#e6297a"/>
<rect x="458.7" y="115.2" width="3.4" height="3.4" fill="#e6297a"/>
<rect x="466.9" y="115.2" width="3.4" height="3.4" fill="#e6297a"/>
<rect x="462.8" y="123.2" width="3.4" height="3.4" fill="#e6297a"/>
<rect x="461.3" y="129.5" width="3.4" height="3.4" fill="#e6297a"/>
<rect x="464.4" y="130.3" width="3.4" height="3.4" fill="#e6297a"/>
<rect x="462.8" y="135.8" width="3.4" height="3.4" fill="#e6297a"/>
<rect x="461.9" y="92.0" width="2.7" height="2.7" fill="#fff" stroke="#ee72a4" stroke-width="0.7"/>
<rect x="463.1" y="101.4" width="2.7" height="2.7" fill="#fff" stroke="#ee72a4" stroke-width="0.7"/>
<rect x="464.7" y="106.3" width="2.7" height="2.7" fill="#fff" stroke="#ee72a4" stroke-width="0.7"/>
<rect x="464.7" y="111.9" width="2.7" height="2.7" fill="#fff" stroke="#ee72a4" stroke-width="0.7"/>
<rect x="461.6" y="115.5" width="2.7" height="2.7" fill="#fff" stroke="#ee72a4" stroke-width="0.7"/>
<rect x="464.7" y="117.0" width="2.7" height="2.7" fill="#fff" stroke="#ee72a4" stroke-width="0.7"/>
<rect x="461.6" y="118.6" width="2.7" height="2.7" fill="#fff" stroke="#ee72a4" stroke-width="0.7"/>
<path d="M458.5 116.9H470.5" stroke="#e6297a" stroke-width="1.45"/>
<path d="M464.5 112V122M461.3 112H467.7M461.3 122H467.7" stroke="#e6297a" stroke-width="0.9" fill="none"/>
<path d="M481.7 102.1L483.7 105.7L479.7 105.7Z" fill="#138a8b"/>
<path d="M486.2 107.7L488.2 111.3L484.2 111.3Z" fill="#138a8b"/>
<path d="M486.2 111.6L488.2 115.2L484.2 115.2Z" fill="#138a8b"/>
<path d="M481.9 114.4L483.9 118.0L479.9 118.0Z" fill="#138a8b"/>
<path d="M477.8 117.8L479.8 121.4L475.8 121.4Z" fill="#138a8b"/>
<path d="M481.9 119.8L483.9 123.4L479.9 123.4Z" fill="#138a8b"/>
<path d="M477.8 123.6L479.8 127.2L475.8 127.2Z" fill="#138a8b"/>
<path d="M481.9 125.3L483.9 128.9L479.9 128.9Z" fill="#138a8b"/>
<path d="M486.2 124.6L488.2 128.2L484.2 128.2Z" fill="#138a8b"/>
<path d="M481.9 134.1L483.9 137.7L479.9 137.7Z" fill="#138a8b"/>
<path d="M477.8 109.8L479.8 113.4L475.8 113.4Z" fill="#fff" stroke="#138a8b" stroke-width="0.7"/>
<path d="M477.8 114.9L479.8 118.5L475.8 118.5Z" fill="#fff" stroke="#138a8b" stroke-width="0.7"/>
<path d="M476 118.9H488" stroke="#138a8b" stroke-width="1.45"/>
<path d="M482.0 109.7V127.3M478.8 109.7H485.2M478.8 127.3H485.2" stroke="#138a8b" stroke-width="0.9" fill="none"/>
<path d="M500.3 119.9L502.3 116.3L498.3 116.3Z" fill="#84c6e6"/>
<path d="M498.2 122.0L500.2 118.4L496.2 118.4Z" fill="#84c6e6"/>
<path d="M502.3 122.5L504.3 118.9L500.3 118.9Z" fill="#84c6e6"/>
<path d="M496.2 125.0L498.2 121.4L494.2 121.4Z" fill="#84c6e6"/>
<path d="M500.3 124.5L502.3 120.9L498.3 120.9Z" fill="#84c6e6"/>
<path d="M503.9 125.0L505.9 121.4L501.9 121.4Z" fill="#84c6e6"/>
<path d="M497.2 128.1L499.2 124.5L495.2 124.5Z" fill="#84c6e6"/>
<path d="M501.3 128.1L503.3 124.5L499.3 124.5Z" fill="#84c6e6"/>
<path d="M498.2 131.2L500.2 127.6L496.2 127.6Z" fill="#84c6e6"/>
<path d="M502.3 131.2L504.3 127.6L500.3 127.6Z" fill="#84c6e6"/>
<path d="M500.3 133.2L502.3 129.6L498.3 129.6Z" fill="#84c6e6"/>
<path d="M494.5 125.1H506" stroke="#84c6e6" stroke-width="1.45"/>
<path d="M500.25 122.5V127.7M497.05 122.5H503.45M497.05 127.7H503.45" stroke="#84c6e6" stroke-width="0.9" fill="none"/>
<path d="M481.7 96.39999999999999V94.6H501.1V96.39999999999999" fill="none" stroke="#1a1a1a" stroke-width="1.3"/>
<text x="491.4" y="95.89999999999999" font-size="13" text-anchor="middle" font-weight="normal" font-style="normal" fill="#1a1a1a" >*</text>
<circle cx="528.1" cy="47.9" r="1.75" fill="#111"/>
<circle cx="528.1" cy="60.3" r="1.75" fill="#111"/>
<circle cx="528.1" cy="80.7" r="1.75" fill="#111"/>
<circle cx="528.1" cy="85.8" r="1.75" fill="#111"/>
<circle cx="529.8" cy="92.6" r="1.75" fill="#111"/>
<circle cx="523.8" cy="96.4" r="1.75" fill="#111"/>
<circle cx="527.0" cy="94.7" r="1.75" fill="#111"/>
<circle cx="526.5" cy="98.6" r="1.75" fill="#111"/>
<circle cx="523.8" cy="100.8" r="1.75" fill="#111"/>
<circle cx="529.8" cy="101.3" r="1.75" fill="#111"/>
<circle cx="532.5" cy="101.3" r="1.75" fill="#111"/>
<circle cx="532.5" cy="107.9" r="1.75" fill="#111"/>
<circle cx="526.5" cy="108.4" r="1.75" fill="#111"/>
<circle cx="529.8" cy="109.2" r="1.75" fill="#111"/>
<circle cx="526.5" cy="112.3" r="1.75" fill="#111"/>
<circle cx="529.8" cy="114.5" r="1.75" fill="#111"/>
<circle cx="528.1" cy="120.5" r="1.75" fill="#111"/>
<path d="M522.7 96.1H534.5" stroke="#111" stroke-width="1.45"/>
<path d="M528.6 91.2V100M525.4 91.2H531.8000000000001M525.4 100H531.8000000000001" stroke="#111" stroke-width="0.9" fill="none"/>
<rect x="544.2" y="60.4" width="3.4" height="3.4" fill="#e6297a"/>
<rect x="544.2" y="89.5" width="3.4" height="3.4" fill="#e6297a"/>
<rect x="544.2" y="94.7" width="3.4" height="3.4" fill="#e6297a"/>
<rect x="539.8" y="98.5" width="3.4" height="3.4" fill="#e6297a"/>
<rect x="544.2" y="100.2" width="3.4" height="3.4" fill="#e6297a"/>
<rect x="539.8" y="111.4" width="3.4" height="3.4" fill="#e6297a"/>
<rect x="544.2" y="112.5" width="3.4" height="3.4" fill="#e6297a"/>
<rect x="539.8" y="116.3" width="3.4" height="3.4" fill="#e6297a"/>
<rect x="544.2" y="117.1" width="3.4" height="3.4" fill="#e6297a"/>
<rect x="548.3" y="116.6" width="3.4" height="3.4" fill="#e6297a"/>
<rect x="544.2" y="122.1" width="3.4" height="3.4" fill="#e6297a"/>
<rect x="539.8" y="124.8" width="3.4" height="3.4" fill="#e6297a"/>
<rect x="548.3" y="124.6" width="3.4" height="3.4" fill="#e6297a"/>
<path d="M540.2 108.4H551.7" stroke="#e6297a" stroke-width="1.45"/>
<path d="M545.95 103.5V113.1M542.75 103.5H549.1500000000001M542.75 113.1H549.1500000000001" stroke="#e6297a" stroke-width="0.9" fill="none"/>
<path d="M563.2 93.8L565.2 97.4L561.2 97.4Z" fill="#138a8b"/>
<path d="M558.8 107.5L560.8 111.1L556.8 111.1Z" fill="#138a8b"/>
<path d="M564.8 108.1L566.8 111.7L562.8 111.7Z" fill="#138a8b"/>
<path d="M567.6 107.5L569.6 111.1L565.6 111.1Z" fill="#138a8b"/>
<path d="M561.5 110.3L563.5 113.9L559.5 113.9Z" fill="#138a8b"/>
<path d="M564.8 115.7L566.8 119.3L562.8 119.3Z" fill="#138a8b"/>
<path d="M558.8 118.8L560.8 122.4L556.8 122.4Z" fill="#138a8b"/>
<path d="M567.6 118.5L569.6 122.1L565.6 122.1Z" fill="#138a8b"/>
<path d="M564.8 120.1L566.8 123.7L562.8 123.7Z" fill="#138a8b"/>
<path d="M561.5 122.3L563.5 125.9L559.5 125.9Z" fill="#138a8b"/>
<path d="M557.5 114.2H569.5" stroke="#138a8b" stroke-width="1.45"/>
<path d="M563.5 105.5V121.6M560.3 105.5H566.7M560.3 121.6H566.7" stroke="#138a8b" stroke-width="0.9" fill="none"/>
<path d="M580.5 102.2L582.5 98.6L578.5 98.6Z" fill="#84c6e6"/>
<path d="M580.5 107.1L582.5 103.5L578.5 103.5Z" fill="#84c6e6"/>
<path d="M578.0 114.8L580.0 111.2L576.0 111.2Z" fill="#84c6e6"/>
<path d="M582.9 117.6L584.9 114.0L580.9 114.0Z" fill="#84c6e6"/>
<path d="M576.3 119.2L578.3 115.6L574.3 115.6Z" fill="#84c6e6"/>
<path d="M580.5 119.2L582.5 115.6L578.5 115.6Z" fill="#84c6e6"/>
<path d="M585.1 118.1L587.1 114.5L583.1 114.5Z" fill="#84c6e6"/>
<path d="M578.5 123.0L580.5 119.4L576.5 119.4Z" fill="#84c6e6"/>
<path d="M582.3 123.6L584.3 120.0L580.3 120.0Z" fill="#84c6e6"/>
<path d="M578.0 126.9L580.0 123.3L576.0 123.3Z" fill="#84c6e6"/>
<path d="M575 117.2H586.5" stroke="#84c6e6" stroke-width="1.45"/>
<path d="M580.75 115V119.5M577.55 115H583.95M577.55 119.5H583.95" stroke="#84c6e6" stroke-width="0.9" fill="none"/>
<circle cx="45.1" cy="300.8" r="1.75" fill="#111"/>
<circle cx="51.1" cy="300.2" r="1.75" fill="#111"/>
<circle cx="57.1" cy="299.6" r="1.75" fill="#111"/>
<circle cx="63.0" cy="298.7" r="1.75" fill="#111"/>
<circle cx="51.1" cy="306.8" r="1.40" fill="#fff" stroke="#111" stroke-width="0.75"/>
<circle cx="56.9" cy="310.0" r="1.40" fill="#fff" stroke="#111" stroke-width="0.75"/>
<circle cx="54.3" cy="316.3" r="1.40" fill="#fff" stroke="#111" stroke-width="0.75"/>
<circle cx="51.1" cy="321.0" r="1.40" fill="#fff" stroke="#111" stroke-width="0.75"/>
<circle cx="57.1" cy="320.0" r="1.40" fill="#fff" stroke="#111" stroke-width="0.75"/>
<circle cx="54.3" cy="325.0" r="1.40" fill="#fff" stroke="#111" stroke-width="0.75"/>
<circle cx="54.3" cy="335.2" r="1.40" fill="#fff" stroke="#111" stroke-width="0.75"/>
<path d="M42.2 312.1H66.4" stroke="#111" stroke-width="1.45"/>
<path d="M54.300000000000004 308.4V316M48.50000000000001 308.4H60.1M48.50000000000001 316H60.1" stroke="#111" stroke-width="0.9" fill="none"/>
<rect x="87.8" y="284.4" width="3.4" height="3.4" fill="#e6297a"/>
<rect x="82.5" y="289.7" width="3.4" height="3.4" fill="#e6297a"/>
<rect x="93.1" y="292.0" width="3.4" height="3.4" fill="#e6297a"/>
<rect x="82.5" y="298.3" width="3.4" height="3.4" fill="#e6297a"/>
<rect x="93.1" y="298.8" width="3.4" height="3.4" fill="#e6297a"/>
<rect x="77.5" y="303.5" width="3.4" height="3.4" fill="#e6297a"/>
<rect x="87.8" y="304.6" width="3.4" height="3.4" fill="#e6297a"/>
<rect x="93.1" y="304.4" width="3.4" height="3.4" fill="#e6297a"/>
<rect x="98.3" y="303.5" width="3.4" height="3.4" fill="#e6297a"/>
<rect x="87.8" y="309.3" width="3.4" height="3.4" fill="#e6297a"/>
<rect x="87.8" y="326.6" width="3.4" height="3.4" fill="#e6297a"/>
<rect x="88.1" y="292.3" width="2.7" height="2.7" fill="#fff" stroke="#ee72a4" stroke-width="0.7"/>
<rect x="88.1" y="297.5" width="2.7" height="2.7" fill="#fff" stroke="#ee72a4" stroke-width="0.7"/>
<rect x="83.4" y="305.4" width="2.7" height="2.7" fill="#fff" stroke="#ee72a4" stroke-width="0.7"/>
<rect x="88.1" y="312.8" width="2.7" height="2.7" fill="#fff" stroke="#ee72a4" stroke-width="0.7"/>
<rect x="93.4" y="314.9" width="2.7" height="2.7" fill="#fff" stroke="#ee72a4" stroke-width="0.7"/>
<rect x="82.8" y="316.4" width="2.7" height="2.7" fill="#fff" stroke="#ee72a4" stroke-width="0.7"/>
<rect x="88.1" y="318.0" width="2.7" height="2.7" fill="#fff" stroke="#ee72a4" stroke-width="0.7"/>
<rect x="93.4" y="327.5" width="2.7" height="2.7" fill="#fff" stroke="#ee72a4" stroke-width="0.7"/>
<rect x="83.4" y="329.1" width="2.7" height="2.7" fill="#fff" stroke="#ee72a4" stroke-width="0.7"/>
<path d="M78 308.2H101.6" stroke="#e6297a" stroke-width="1.45"/>
<path d="M89.8 305.5V311M84.0 305.5H95.6M84.0 311H95.6" stroke="#e6297a" stroke-width="0.9" fill="none"/>
<path d="M125.5 286.9L127.5 290.5L123.5 290.5Z" fill="#138a8b"/>
<path d="M119.2 302.2L121.2 305.8L117.2 305.8Z" fill="#138a8b"/>
<path d="M125.2 301.3L127.2 304.9L123.2 304.9Z" fill="#138a8b"/>
<path d="M131.3 303.0L133.3 306.6L129.3 306.6Z" fill="#138a8b"/>
<path d="M122.0 310.1L124.0 313.7L120.0 313.7Z" fill="#138a8b"/>
<path d="M128.3 310.1L130.3 313.7L126.3 313.7Z" fill="#138a8b"/>
<path d="M131.1 298.0L133.1 301.6L129.1 301.6Z" fill="#fff" stroke="#138a8b" stroke-width="0.7"/>
<path d="M125.2 305.9L127.2 309.5L123.2 309.5Z" fill="#fff" stroke="#138a8b" stroke-width="0.7"/>
<path d="M125.2 314.8L127.2 318.4L123.2 318.4Z" fill="#fff" stroke="#138a8b" stroke-width="0.7"/>
<path d="M113.2 305.4H137.4" stroke="#138a8b" stroke-width="1.45"/>
<path d="M125.30000000000001 297.3V313.6M119.50000000000001 297.3H131.10000000000002M119.50000000000001 313.6H131.10000000000002" stroke="#138a8b" stroke-width="0.9" fill="none"/>
<path d="M154.4 298.8L156.4 295.2L152.4 295.2Z" fill="#84c6e6"/>
<path d="M167.0 298.8L169.0 295.2L165.0 295.2Z" fill="#84c6e6"/>
<path d="M154.4 303.5L156.4 299.9L152.4 299.9Z" fill="#84c6e6"/>
<path d="M167.0 303.5L169.0 299.9L165.0 299.9Z" fill="#84c6e6"/>
<path d="M150.2 306.4L152.2 302.8L148.2 302.8Z" fill="#84c6e6"/>
<path d="M158.6 306.4L160.6 302.8L156.6 302.8Z" fill="#84c6e6"/>
<path d="M162.8 305.1L164.8 301.5L160.8 301.5Z" fill="#84c6e6"/>
<path d="M171.2 306.4L173.2 302.8L169.2 302.8Z" fill="#84c6e6"/>
<path d="M158.6 310.2L160.6 306.6L156.6 306.6Z" fill="#84c6e6"/>
<path d="M162.8 308.8L164.8 305.2L160.8 305.2Z" fill="#84c6e6"/>
<path d="M167.0 309.1L169.0 305.5L165.0 305.5Z" fill="#84c6e6"/>
<path d="M160.7 317.7L162.7 314.1L158.7 314.1Z" fill="#84c6e6"/>
<path d="M158.6 301.4L160.6 297.8L156.6 297.8Z" fill="#fff" stroke="#84c6e6" stroke-width="0.7"/>
<path d="M162.8 312.5L164.8 308.9L160.8 308.9Z" fill="#fff" stroke="#84c6e6" stroke-width="0.7"/>
<path d="M149.2 304.7H172.8" stroke="#84c6e6" stroke-width="1.45"/>
<path d="M161.0 302.8V306.6M155.2 302.8H166.8M155.2 306.6H166.8" stroke="#84c6e6" stroke-width="0.9" fill="none"/>
<circle cx="256.5" cy="298.1" r="1.40" fill="#fff" stroke="#111" stroke-width="0.75"/>
<circle cx="253.5" cy="305.2" r="1.40" fill="#fff" stroke="#111" stroke-width="0.75"/>
<circle cx="259.8" cy="304.2" r="1.40" fill="#fff" stroke="#111" stroke-width="0.75"/>
<circle cx="259.8" cy="308.4" r="1.40" fill="#fff" stroke="#111" stroke-width="0.75"/>
<circle cx="259.6" cy="318.9" r="1.40" fill="#fff" stroke="#111" stroke-width="0.75"/>
<circle cx="253.5" cy="325.2" r="1.40" fill="#fff" stroke="#111" stroke-width="0.75"/>
<circle cx="266.1" cy="323.8" r="1.40" fill="#fff" stroke="#111" stroke-width="0.75"/>
<circle cx="262.8" cy="298.1" r="1.75" fill="#111"/>
<circle cx="259.6" cy="326.3" r="1.75" fill="#111"/>
<circle cx="265.9" cy="328.4" r="1.75" fill="#111"/>
<circle cx="253.5" cy="330.9" r="1.75" fill="#111"/>
<path d="M247.2 315.4H272.4" stroke="#111" stroke-width="1.45"/>
<path d="M259.79999999999995 311.8V319.1M253.99999999999994 311.8H265.59999999999997M253.99999999999994 319.1H265.59999999999997" stroke="#111" stroke-width="0.9" fill="none"/>
<rect x="295.7" y="263.1" width="2.7" height="2.7" fill="#fff" stroke="#ee72a4" stroke-width="0.7"/>
<rect x="295.7" y="288.5" width="2.7" height="2.7" fill="#fff" stroke="#ee72a4" stroke-width="0.7"/>
<rect x="295.7" y="294.8" width="2.7" height="2.7" fill="#fff" stroke="#ee72a4" stroke-width="0.7"/>
<rect x="292.6" y="302.2" width="2.7" height="2.7" fill="#fff" stroke="#ee72a4" stroke-width="0.7"/>
<rect x="298.9" y="303.8" width="2.7" height="2.7" fill="#fff" stroke="#ee72a4" stroke-width="0.7"/>
<rect x="286.8" y="315.8" width="2.7" height="2.7" fill="#fff" stroke="#ee72a4" stroke-width="0.7"/>
<rect x="292.6" y="315.1" width="2.7" height="2.7" fill="#fff" stroke="#ee72a4" stroke-width="0.7"/>
<rect x="298.9" y="319.8" width="2.7" height="2.7" fill="#fff" stroke="#ee72a4" stroke-width="0.7"/>
<rect x="305.2" y="317.2" width="2.7" height="2.7" fill="#fff" stroke="#ee72a4" stroke-width="0.7"/>
<rect x="292.3" y="305.6" width="3.4" height="3.4" fill="#e6297a"/>
<rect x="286.0" y="310.6" width="3.4" height="3.4" fill="#e6297a"/>
<rect x="304.9" y="313.2" width="3.4" height="3.4" fill="#e6297a"/>
<rect x="298.6" y="316.2" width="3.4" height="3.4" fill="#e6297a"/>
<rect x="286.0" y="319.0" width="3.4" height="3.4" fill="#e6297a"/>
<rect x="292.3" y="319.5" width="3.4" height="3.4" fill="#e6297a"/>
<rect x="295.4" y="322.9" width="3.4" height="3.4" fill="#e6297a"/>
<rect x="295.4" y="343.7" width="3.4" height="3.4" fill="#e6297a"/>
<path d="M285 311.5H309.7" stroke="#e6297a" stroke-width="1.45"/>
<path d="M297.35 307.3V315.8M291.55 307.3H303.15000000000003M291.55 315.8H303.15000000000003" stroke="#e6297a" stroke-width="0.9" fill="none"/>
<path d="M325.0 308.5L327.0 312.1L323.0 312.1Z" fill="#fff" stroke="#138a8b" stroke-width="0.7"/>
<path d="M337.6 305.1L339.6 308.7L335.6 308.7Z" fill="#fff" stroke="#138a8b" stroke-width="0.7"/>
<path d="M343.6 304.3L345.6 307.9L341.6 307.9Z" fill="#fff" stroke="#138a8b" stroke-width="0.7"/>
<path d="M331.3 308.7L333.3 312.3L329.3 312.3Z" fill="#138a8b"/>
<path d="M337.6 310.8L339.6 314.4L335.6 314.4Z" fill="#138a8b"/>
<path d="M343.6 309.3L345.6 312.9L341.6 312.9Z" fill="#138a8b"/>
<path d="M334.4 316.9L336.4 320.5L332.4 320.5Z" fill="#138a8b"/>
<path d="M334.4 324.8L336.4 328.4L332.4 328.4Z" fill="#138a8b"/>
<path d="M334.4 335.3L336.4 338.9L332.4 338.9Z" fill="#138a8b"/>
<path d="M321.8 315.5H347.1" stroke="#138a8b" stroke-width="1.45"/>
<path d="M334.45000000000005 305.4V325.4M328.15000000000003 305.4H340.75000000000006M328.15000000000003 325.4H340.75000000000006" stroke="#138a8b" stroke-width="0.9" fill="none"/>
<path d="M371.8 296.7L373.8 293.1L369.8 293.1Z" fill="#84c6e6"/>
<path d="M371.8 315.1L373.8 311.5L369.8 311.5Z" fill="#84c6e6"/>
<path d="M365.5 319.8L367.5 316.2L363.5 316.2Z" fill="#84c6e6"/>
<path d="M371.8 319.3L373.8 315.7L369.8 315.7Z" fill="#84c6e6"/>
<path d="M378.1 319.8L380.1 316.2L376.1 316.2Z" fill="#84c6e6"/>
<path d="M362.8 326.1L364.8 322.5L360.8 322.5Z" fill="#84c6e6"/>
<path d="M368.8 324.6L370.8 321.0L366.8 321.0Z" fill="#84c6e6"/>
<path d="M374.9 325.6L376.9 322.0L372.9 322.0Z" fill="#84c6e6"/>
<path d="M368.8 329.3L370.8 325.7L366.8 325.7Z" fill="#84c6e6"/>
<path d="M368.8 333.0L370.8 329.4L366.8 329.4Z" fill="#84c6e6"/>
<path d="M374.9 333.0L376.9 329.4L372.9 329.4Z" fill="#84c6e6"/>
<path d="M381.2 333.0L383.2 329.4L379.2 329.4Z" fill="#84c6e6"/>
<path d="M362.8 334.0L364.8 330.4L360.8 330.4Z" fill="#84c6e6"/>
<path d="M374.9 329.3L376.9 325.7L372.9 325.7Z" fill="#fff" stroke="#84c6e6" stroke-width="0.7"/>
<path d="M359.1 322.4H384.4" stroke="#84c6e6" stroke-width="1.45"/>
<path d="M371.75 319.5V325.5M365.95 319.5H377.55M365.95 325.5H377.55" stroke="#84c6e6" stroke-width="0.9" fill="none"/>
<circle cx="55.9" cy="572.2" r="1.75" fill="#111"/>
<circle cx="55.9" cy="588.3" r="1.75" fill="#111"/>
<circle cx="55.9" cy="600.2" r="1.75" fill="#111"/>
<circle cx="55.9" cy="628.8" r="1.75" fill="#111"/>
<circle cx="55.9" cy="631.8" r="1.75" fill="#111"/>
<circle cx="49.7" cy="636.0" r="1.40" fill="#fff" stroke="#111" stroke-width="0.75"/>
<circle cx="49.7" cy="639.5" r="1.40" fill="#fff" stroke="#111" stroke-width="0.75"/>
<circle cx="49.7" cy="642.8" r="1.40" fill="#fff" stroke="#111" stroke-width="0.75"/>
<circle cx="55.9" cy="636.6" r="1.40" fill="#fff" stroke="#111" stroke-width="0.75"/>
<circle cx="55.9" cy="639.9" r="1.40" fill="#fff" stroke="#111" stroke-width="0.75"/>
<circle cx="61.8" cy="638.7" r="1.40" fill="#fff" stroke="#111" stroke-width="0.75"/>
<circle cx="61.8" cy="641.9" r="1.40" fill="#fff" stroke="#111" stroke-width="0.75"/>
<path d="M43.4 624.6H67.8" stroke="#111" stroke-width="1.45"/>
<path d="M55.599999999999994 617.5V631.5M49.699999999999996 617.5H61.49999999999999M49.699999999999996 631.5H61.49999999999999" stroke="#111" stroke-width="0.9" fill="none"/>
<rect x="90.5" y="543.7" width="3.4" height="3.4" fill="#e6297a"/>
<rect x="90.5" y="607.4" width="3.4" height="3.4" fill="#e6297a"/>
<rect x="90.5" y="614.4" width="3.4" height="3.4" fill="#e6297a"/>
<rect x="88.8" y="619.6" width="3.4" height="3.4" fill="#e6297a"/>
<rect x="92.3" y="620.5" width="3.4" height="3.4" fill="#e6297a"/>
<rect x="95.3" y="623.2" width="3.4" height="3.4" fill="#e6297a"/>
<rect x="88.8" y="625.3" width="3.4" height="3.4" fill="#e6297a"/>
<rect x="92.3" y="625.3" width="3.4" height="3.4" fill="#e6297a"/>
<rect x="82.8" y="633.7" width="3.4" height="3.4" fill="#e6297a"/>
<rect x="85.8" y="636.0" width="3.4" height="3.4" fill="#e6297a"/>
<rect x="88.8" y="638.4" width="3.4" height="3.4" fill="#e6297a"/>
<rect x="95.3" y="639.4" width="3.4" height="3.4" fill="#e6297a"/>
<rect x="101.3" y="637.0" width="3.4" height="3.4" fill="#e6297a"/>
<rect x="80.1" y="638.1" width="2.7" height="2.7" fill="#fff" stroke="#ee72a4" stroke-width="0.7"/>
<rect x="80.1" y="641.4" width="2.7" height="2.7" fill="#fff" stroke="#ee72a4" stroke-width="0.7"/>
<rect x="86.1" y="639.7" width="2.7" height="2.7" fill="#fff" stroke="#ee72a4" stroke-width="0.7"/>
<rect x="92.6" y="641.7" width="2.7" height="2.7" fill="#fff" stroke="#ee72a4" stroke-width="0.7"/>
<rect x="98.6" y="637.5" width="2.7" height="2.7" fill="#fff" stroke="#ee72a4" stroke-width="0.7"/>
<rect x="98.6" y="641.4" width="2.7" height="2.7" fill="#fff" stroke="#ee72a4" stroke-width="0.7"/>
<rect x="101.6" y="640.5" width="2.7" height="2.7" fill="#fff" stroke="#ee72a4" stroke-width="0.7"/>
<path d="M80.3 630.4H104.8" stroke="#e6297a" stroke-width="1.45"/>
<path d="M92.55 625.2V634.4M86.64999999999999 625.2H98.45M86.64999999999999 634.4H98.45" stroke="#e6297a" stroke-width="0.9" fill="none"/>
<path d="M129.3 597.6L131.3 601.2L127.3 601.2Z" fill="#138a8b"/>
<path d="M129.3 609.5L131.3 613.1L127.3 613.1Z" fill="#138a8b"/>
<path d="M129.3 617.3L131.3 620.9L127.3 620.9Z" fill="#138a8b"/>
<path d="M126.5 629.8L128.5 633.4L124.5 633.4Z" fill="#138a8b"/>
<path d="M132.6 630.7L134.6 634.3L130.6 634.3Z" fill="#138a8b"/>
<path d="M120.5 636.7L122.5 640.3L118.5 640.3Z" fill="#138a8b"/>
<path d="M126.5 638.1L128.5 641.7L124.5 641.7Z" fill="#138a8b"/>
<path d="M138.4 636.9L140.4 640.5L136.4 640.5Z" fill="#138a8b"/>
<path d="M132.4 626.8L134.4 630.4L130.4 630.4Z" fill="#fff" stroke="#138a8b" stroke-width="0.7"/>
<path d="M132.4 639.3L134.4 642.9L130.4 642.9Z" fill="#fff" stroke="#138a8b" stroke-width="0.7"/>
<path d="M129.3 645.3L131.3 648.9L127.3 648.9Z" fill="#fff" stroke="#138a8b" stroke-width="0.7"/>
<path d="M116.9 630.4H141.6" stroke="#138a8b" stroke-width="1.45"/>
<path d="M129.25 615.3V644.7M123.15 615.3H135.35M123.15 644.7H135.35" stroke="#138a8b" stroke-width="0.9" fill="none"/>
<path d="M165.8 557.3L167.8 553.7L163.8 553.7Z" fill="#84c6e6"/>
<path d="M165.8 613.3L167.8 609.7L163.8 609.7Z" fill="#84c6e6"/>
<path d="M170.2 613.8L172.2 610.2L168.2 610.2Z" fill="#84c6e6"/>
<path d="M163.6 626.0L165.6 622.4L161.6 622.4Z" fill="#84c6e6"/>
<path d="M163.6 633.2L165.6 629.6L161.6 629.6Z" fill="#84c6e6"/>
<path d="M172.2 632.0L174.2 628.4L170.2 628.4Z" fill="#84c6e6"/>
<path d="M155.3 636.8L157.3 633.2L153.3 633.2Z" fill="#84c6e6"/>
<path d="M159.5 637.4L161.5 633.8L157.5 633.8Z" fill="#84c6e6"/>
<path d="M163.6 637.4L165.6 633.8L161.6 633.8Z" fill="#84c6e6"/>
<path d="M168.2 638.3L170.2 634.7L166.2 634.7Z" fill="#84c6e6"/>
<path d="M172.2 637.4L174.2 633.8L170.2 633.8Z" fill="#84c6e6"/>
<path d="M176.5 638.0L178.5 634.4L174.5 634.4Z" fill="#84c6e6"/>
<path d="M165.8 642.4L167.8 638.8L163.8 638.8Z" fill="#84c6e6"/>
<path d="M165.8 587.9L167.8 584.3L163.8 584.3Z" fill="#fff" stroke="#84c6e6" stroke-width="0.7"/>
<path d="M161.3 613.3L163.3 609.7L159.3 609.7Z" fill="#fff" stroke="#84c6e6" stroke-width="0.7"/>
<path d="M168.2 623.3L170.2 619.7L166.2 619.7Z" fill="#fff" stroke="#84c6e6" stroke-width="0.7"/>
<path d="M168.2 633.2L170.2 629.6L166.2 629.6Z" fill="#fff" stroke="#84c6e6" stroke-width="0.7"/>
<path d="M153.9 622.2H178.5" stroke="#84c6e6" stroke-width="1.45"/>
<path d="M166.2 616.9V627.6M160.1 616.9H172.29999999999998M160.1 627.6H172.29999999999998" stroke="#84c6e6" stroke-width="0.9" fill="none"/>
<circle cx="258.5" cy="563.2" r="1.75" fill="#111"/>
<circle cx="258.5" cy="576.0" r="1.75" fill="#111"/>
<circle cx="258.5" cy="601.4" r="1.75" fill="#111"/>
<circle cx="264.4" cy="628.8" r="1.75" fill="#111"/>
<circle cx="252.5" cy="625.8" r="1.40" fill="#fff" stroke="#111" stroke-width="0.75"/>
<circle cx="264.4" cy="624.9" r="1.40" fill="#fff" stroke="#111" stroke-width="0.75"/>
<circle cx="258.5" cy="628.4" r="1.40" fill="#fff" stroke="#111" stroke-width="0.75"/>
<circle cx="252.5" cy="631.5" r="1.40" fill="#fff" stroke="#111" stroke-width="0.75"/>
<circle cx="258.5" cy="632.0" r="1.40" fill="#fff" stroke="#111" stroke-width="0.75"/>
<circle cx="264.4" cy="632.0" r="1.40" fill="#fff" stroke="#111" stroke-width="0.75"/>
<circle cx="252.5" cy="635.1" r="1.40" fill="#fff" stroke="#111" stroke-width="0.75"/>
<path d="M246 616.1H271" stroke="#111" stroke-width="1.45"/>
<path d="M258.5 608.9V623.4M252.3 608.9H264.7M252.3 623.4H264.7" stroke="#111" stroke-width="0.9" fill="none"/>
<rect x="293.4" y="610.4" width="3.4" height="3.4" fill="#e6297a"/>
<rect x="289.0" y="617.0" width="3.4" height="3.4" fill="#e6297a"/>
<rect x="291.9" y="619.4" width="3.4" height="3.4" fill="#e6297a"/>
<rect x="295.3" y="617.6" width="3.4" height="3.4" fill="#e6297a"/>
<rect x="298.5" y="619.4" width="3.4" height="3.4" fill="#e6297a"/>
<rect x="294.3" y="633.7" width="3.4" height="3.4" fill="#e6297a"/>
<rect x="297.9" y="633.1" width="3.4" height="3.4" fill="#e6297a"/>
<rect x="289.0" y="636.3" width="3.4" height="3.4" fill="#e6297a"/>
<rect x="292.2" y="624.4" width="2.7" height="2.7" fill="#fff" stroke="#ee72a4" stroke-width="0.7"/>
<rect x="283.3" y="632.8" width="2.7" height="2.7" fill="#fff" stroke="#ee72a4" stroke-width="0.7"/>
<rect x="286.3" y="631.0" width="2.7" height="2.7" fill="#fff" stroke="#ee72a4" stroke-width="0.7"/>
<rect x="289.9" y="632.8" width="2.7" height="2.7" fill="#fff" stroke="#ee72a4" stroke-width="0.7"/>
<rect x="295.8" y="626.8" width="2.7" height="2.7" fill="#fff" stroke="#ee72a4" stroke-width="0.7"/>
<rect x="298.2" y="628.6" width="2.7" height="2.7" fill="#fff" stroke="#ee72a4" stroke-width="0.7"/>
<rect x="303.6" y="632.8" width="2.7" height="2.7" fill="#fff" stroke="#ee72a4" stroke-width="0.7"/>
<rect x="300.6" y="632.8" width="2.7" height="2.7" fill="#fff" stroke="#ee72a4" stroke-width="0.7"/>
<path d="M283.2 628.8H307.9" stroke="#e6297a" stroke-width="1.45"/>
<path d="M295.54999999999995 626.4V630.6M289.65 626.4H301.44999999999993M289.65 630.6H301.44999999999993" stroke="#e6297a" stroke-width="0.9" fill="none"/>
<path d="M332.0 597.6L334.0 601.2L330.0 601.2Z" fill="#138a8b"/>
<path d="M332.0 608.3L334.0 611.9L330.0 611.9Z" fill="#138a8b"/>
<path d="M332.0 617.6L334.0 621.2L330.0 621.2Z" fill="#138a8b"/>
<path d="M328.7 622.0L330.7 625.6L326.7 625.6Z" fill="#138a8b"/>
<path d="M325.7 626.8L327.7 630.4L323.7 630.4Z" fill="#138a8b"/>
<path d="M338.0 626.8L340.0 630.4L336.0 630.4Z" fill="#138a8b"/>
<path d="M332.0 629.5L334.0 633.1L330.0 633.1Z" fill="#138a8b"/>
<path d="M325.7 632.8L327.7 636.4L323.7 636.4Z" fill="#138a8b"/>
<path d="M332.0 634.0L334.0 637.6L330.0 637.6Z" fill="#138a8b"/>
<path d="M334.6 620.3L336.6 623.9L332.6 623.9Z" fill="#fff" stroke="#138a8b" stroke-width="0.7"/>
<path d="M338.0 633.4L340.0 637.0L336.0 637.0Z" fill="#fff" stroke="#138a8b" stroke-width="0.7"/>
<path d="M332.0 639.1L334.0 642.7L330.0 642.7Z" fill="#fff" stroke="#138a8b" stroke-width="0.7"/>
<path d="M319.4 625.6H344.2" stroke="#138a8b" stroke-width="1.45"/>
<path d="M331.79999999999995 614.5V637.2M325.59999999999997 614.5H337.99999999999994M325.59999999999997 637.2H337.99999999999994" stroke="#138a8b" stroke-width="0.9" fill="none"/>
<path d="M366.2 613.3L368.2 609.7L364.2 609.7Z" fill="#84c6e6"/>
<path d="M370.6 616.1L372.6 612.5L368.6 612.5Z" fill="#84c6e6"/>
<path d="M366.2 626.6L368.2 623.0L364.2 623.0Z" fill="#84c6e6"/>
<path d="M370.6 627.6L372.6 624.0L368.6 624.0Z" fill="#84c6e6"/>
<path d="M357.9 635.2L359.9 631.6L355.9 631.6Z" fill="#84c6e6"/>
<path d="M362.1 635.2L364.1 631.6L360.1 631.6Z" fill="#84c6e6"/>
<path d="M366.2 633.8L368.2 630.2L364.2 630.2Z" fill="#84c6e6"/>
<path d="M370.6 634.4L372.6 630.8L368.6 630.8Z" fill="#84c6e6"/>
<path d="M375.2 633.8L377.2 630.2L373.2 630.2Z" fill="#84c6e6"/>
<path d="M379.3 636.2L381.3 632.6L377.3 632.6Z" fill="#84c6e6"/>
<path d="M366.2 637.4L368.2 633.8L364.2 633.8Z" fill="#84c6e6"/>
<path d="M370.6 639.7L372.6 636.1L368.6 636.1Z" fill="#84c6e6"/>
<path d="M362.1 630.2L364.1 626.6L360.1 626.6Z" fill="#fff" stroke="#84c6e6" stroke-width="0.7"/>
<path d="M370.6 630.8L372.6 627.2L368.6 627.2Z" fill="#fff" stroke="#84c6e6" stroke-width="0.7"/>
<path d="M366.2 640.9L368.2 637.3L364.2 637.3Z" fill="#fff" stroke="#84c6e6" stroke-width="0.7"/>
<path d="M368.2 535.9L370.2 532.3L366.2 532.3Z" fill="#84c6e6"/>
<path d="M355.9 624.4H381.1" stroke="#84c6e6" stroke-width="1.45"/>
<path d="M368.5 618.4V628.8M362.3 618.4H374.7M362.3 628.8H374.7" stroke="#84c6e6" stroke-width="0.9" fill="none"/>
<defs>
<filter id="bl" x="-20%" y="-20%" width="140%" height="140%"><feGaussianBlur stdDeviation="1.5"/></filter>
<filter id="blob" x="-5%" y="-5%" width="110%" height="110%"><feTurbulence type="fractalNoise" baseFrequency="0.12" numOctaves="2" seed="4" result="t"/><feDisplacementMap in="SourceGraphic" in2="t" scale="7" xChannelSelector="R" yChannelSelector="G" result="d"/><feGaussianBlur in="d" stdDeviation="0.9"/></filter>
<filter id="bl2" x="-20%" y="-20%" width="140%" height="140%"><feGaussianBlur stdDeviation="0.6"/></filter>
<filter id="bl3" x="-20%" y="-20%" width="140%" height="140%"><feGaussianBlur stdDeviation="0.35"/></filter>
<filter id="texw" x="0" y="0" width="100%" height="100%"><feTurbulence type="fractalNoise" baseFrequency="0.75" numOctaves="2" seed="7"/><feColorMatrix values="0 0 0 0 0.95  0 0 0 0 0.75  0 0 0 0 0.95  2.2 0 0 0 -1.25"/></filter>
<filter id="texd" x="0" y="0" width="100%" height="100%"><feTurbulence type="fractalNoise" baseFrequency="0.6" numOctaves="2" seed="11"/><feColorMatrix values="0 0 0 0 0.3  0 0 0 0 0.12  0 0 0 0 0.5  2.0 0 0 0 -1.05"/></filter>

<clipPath id="c1"><path d="M29.2 790.5C31.1 787.1 32.9 785.3 36.2 784.7C39.5 784.1 44.5 786.0 49.0 787.0C53.5 788.0 58.5 789.3 63.0 790.5C67.5 791.7 70.7 793.2 75.9 794.0C81.1 794.8 85.8 795.2 94.0 795.2C102.2 795.2 113.2 794.4 125.0 794.0C136.8 793.6 155.4 793.5 165.0 793.0C174.6 792.5 176.7 792.2 182.5 791.3C188.3 790.4 194.2 788.3 200.0 787.8C205.8 787.3 213.1 788.1 217.6 788.4C222.1 788.7 224.0 789.9 226.9 789.5C229.8 789.1 231.6 788.0 235.0 786.0C238.4 784.0 242.9 780.1 247.5 777.5C252.1 774.9 257.4 772.0 262.7 770.5C267.9 769.0 274.3 767.8 279.0 768.2C283.7 768.6 287.6 770.3 290.7 772.8C293.8 775.3 296.1 779.3 297.7 783.4C299.2 787.5 300.0 792.5 300.0 797.4C300.0 802.3 299.1 807.9 297.7 812.6C296.3 817.3 294.4 820.9 291.9 825.4C289.4 829.9 286.1 835.1 282.6 839.4C279.1 843.7 275.8 848.2 270.9 851.1C266.0 854.0 260.2 855.5 253.4 857.0C246.6 858.5 236.9 859.1 230.0 859.9C223.1 860.6 221.7 860.7 211.7 861.5C201.7 862.3 184.4 864.2 170.0 864.5C155.6 864.8 138.3 864.1 125.0 863.5C111.7 862.9 102.7 862.5 90.0 860.6C77.3 858.8 59.9 854.9 49.0 852.4C38.1 849.9 29.6 848.7 24.5 845.4C19.4 842.1 20.0 838.9 18.7 832.6C17.4 826.3 15.9 812.0 16.9 807.4C17.9 802.8 22.4 807.9 24.5 805.1C26.6 802.3 27.2 793.9 29.2 790.5Z"/></clipPath><clipPath id="c2"><path d="M29.1 919.0C31.6 916.1 36.7 916.3 40.2 916.7C43.7 917.1 47.1 920.1 50.0 921.5C52.9 922.9 53.3 924.4 57.7 924.9C62.1 925.4 69.7 924.5 76.4 924.3C83.1 924.1 92.0 924.0 98.0 923.7C104.0 923.5 107.2 923.8 112.5 922.8C117.8 921.8 124.2 919.2 130.0 917.5C135.8 915.8 140.9 914.0 147.6 912.8C154.3 911.6 161.4 910.4 170.0 910.2C178.6 910.0 190.8 910.7 199.2 911.4C207.6 912.1 214.2 913.7 220.2 914.3C226.2 914.9 230.8 916.0 235.4 914.9C240.1 913.8 244.1 909.8 248.1 907.5C252.1 905.2 254.9 902.5 259.1 901.0C263.3 899.5 268.6 898.8 273.3 898.8C278.1 898.8 283.6 899.5 287.6 901.0C291.6 902.5 295.0 904.8 297.4 907.5C299.8 910.2 301.2 913.6 301.8 917.4C302.4 921.2 301.6 926.5 300.7 930.5C299.8 934.5 298.1 938.0 296.3 941.5C294.5 945.0 292.2 948.0 289.7 951.3C287.1 954.6 284.3 957.9 281.0 961.2C277.7 964.5 274.0 968.3 270.0 971.0C266.0 973.7 261.6 975.6 256.9 977.6C252.2 979.6 245.4 981.9 241.6 983.1C237.8 984.3 240.3 983.9 234.2 985.0C228.1 986.1 215.7 988.5 205.0 989.6C194.3 990.7 182.5 991.4 170.0 991.5C157.5 991.6 142.5 990.8 130.0 990.5C117.5 990.2 107.8 990.4 95.0 989.8C82.2 989.2 64.1 987.7 53.0 986.8C41.9 985.9 33.2 986.3 28.5 984.4C23.8 982.5 25.8 979.0 25.0 975.1C24.2 971.2 24.3 965.6 23.8 961.1C23.3 956.6 21.9 952.7 22.1 948.2C22.3 943.7 23.8 939.1 25.0 934.2C26.2 929.3 26.6 921.9 29.1 919.0Z"/></clipPath></defs>
<rect x="12" y="887" width="48" height="26" fill="#f9f9f9"/>
<clipPath id="deb"><path d="M30 787C36 781 44 778 54 777C64 776 74 778 84 781C96 784 108 787 120 789C130 790.5 138 792 142 794L142 797L30 797Z"/><path d="M184 791C190 787 198 784 208 782.5C218 781.5 228 781.5 236 783L238 787L232 792L186 793Z"/><ellipse cx="236.5" cy="779.5" rx="4" ry="2.2"/><path d="M40 783L52 774L56 775L46 784Z"/><path d="M100 776L110 772L112 774L102 778Z"/></clipPath>
<filter id="debf" x="0" y="0" width="100%" height="100%"><feTurbulence type="fractalNoise" baseFrequency="0.35" numOctaves="3" seed="9"/><feColorMatrix values="0 0 0 0 0.80  0 0 0 0 0.60  0 0 0 0 0.85  4.5 0 0 0 -1.9"/></filter>
<g clip-path="url(#deb)"><rect x="25" y="768" width="220" height="30" filter="url(#debf)" opacity="0.85"/></g>
<path d="M40 916.5C45 916 48 918 52 921C55 923 58 924.5 60 925" fill="none" stroke="#c8a0d0" stroke-width="1" opacity="0.6"/>
<path d="M29.2 790.5C31.1 787.1 32.9 785.3 36.2 784.7C39.5 784.1 44.5 786.0 49.0 787.0C53.5 788.0 58.5 789.3 63.0 790.5C67.5 791.7 70.7 793.2 75.9 794.0C81.1 794.8 85.8 795.2 94.0 795.2C102.2 795.2 113.2 794.4 125.0 794.0C136.8 793.6 155.4 793.5 165.0 793.0C174.6 792.5 176.7 792.2 182.5 791.3C188.3 790.4 194.2 788.3 200.0 787.8C205.8 787.3 213.1 788.1 217.6 788.4C222.1 788.7 224.0 789.9 226.9 789.5C229.8 789.1 231.6 788.0 235.0 786.0C238.4 784.0 242.9 780.1 247.5 777.5C252.1 774.9 257.4 772.0 262.7 770.5C267.9 769.0 274.3 767.8 279.0 768.2C283.7 768.6 287.6 770.3 290.7 772.8C293.8 775.3 296.1 779.3 297.7 783.4C299.2 787.5 300.0 792.5 300.0 797.4C300.0 802.3 299.1 807.9 297.7 812.6C296.3 817.3 294.4 820.9 291.9 825.4C289.4 829.9 286.1 835.1 282.6 839.4C279.1 843.7 275.8 848.2 270.9 851.1C266.0 854.0 260.2 855.5 253.4 857.0C246.6 858.5 236.9 859.1 230.0 859.9C223.1 860.6 221.7 860.7 211.7 861.5C201.7 862.3 184.4 864.2 170.0 864.5C155.6 864.8 138.3 864.1 125.0 863.5C111.7 862.9 102.7 862.5 90.0 860.6C77.3 858.8 59.9 854.9 49.0 852.4C38.1 849.9 29.6 848.7 24.5 845.4C19.4 842.1 20.0 838.9 18.7 832.6C17.4 826.3 15.9 812.0 16.9 807.4C17.9 802.8 22.4 807.9 24.5 805.1C26.6 802.3 27.2 793.9 29.2 790.5Z" fill="#7c3594"/>
<g clip-path="url(#c1)">
<g filter="url(#blob)" fill="#4e2a8c" stroke="#8c4aa4" stroke-width="1.1">
<ellipse cx="32.7" cy="792.8" rx="5.1" ry="4.3"/>
<ellipse cx="60.7" cy="810.4" rx="12.3" ry="10.2"/>
<ellipse cx="47.9" cy="817.4" rx="8.7" ry="5.1"/>
<ellipse cx="21" cy="812.7" rx="5.8" ry="7.2"/>
<ellipse cx="28" cy="829" rx="8.7" ry="10.2"/>
<ellipse cx="39.7" cy="832.6" rx="5.8" ry="7.2"/>
<ellipse cx="50.2" cy="826.7" rx="4.3" ry="4.3"/>
<ellipse cx="54.9" cy="838.4" rx="8.7" ry="8.7"/>
<ellipse cx="74.7" cy="830.2" rx="13.0" ry="13.0"/>
<ellipse cx="91" cy="829" rx="4.3" ry="8.7"/>
<ellipse cx="44.4" cy="801" rx="7.2" ry="5.8"/>
<ellipse cx="79.4" cy="809.2" rx="7.2" ry="7.2"/>
<ellipse cx="109.9" cy="804.5" rx="5.8" ry="5.1"/>
<ellipse cx="99.3" cy="819.7" rx="11.6" ry="14.5"/>
<ellipse cx="119.2" cy="823.2" rx="13.0" ry="14.5"/>
<ellipse cx="136.7" cy="815" rx="11.6" ry="11.6"/>
<ellipse cx="161.2" cy="811.5" rx="10.9" ry="8.7"/>
<ellipse cx="102.8" cy="845.4" rx="11.6" ry="13.0"/>
<ellipse cx="132" cy="845.4" rx="10.2" ry="14.5"/>
<ellipse cx="141.4" cy="832.6" rx="7.2" ry="7.2"/>
<ellipse cx="147.2" cy="845.4" rx="8.7" ry="10.9"/>
<ellipse cx="163.6" cy="832.6" rx="10.2" ry="11.6"/>
<ellipse cx="163.6" cy="852.4" rx="7.2" ry="7.2"/>
<ellipse cx="146" cy="802.2" rx="7.2" ry="5.1"/>
<ellipse cx="169.7" cy="809.4" rx="7.2" ry="8.7"/>
<ellipse cx="196.5" cy="802.4" rx="18.8" ry="7.2"/>
<ellipse cx="207" cy="793" rx="5.8" ry="4.3"/>
<ellipse cx="172" cy="835" rx="10.9" ry="15.9"/>
<ellipse cx="183.7" cy="846.8" rx="8.7" ry="10.2"/>
<ellipse cx="201.2" cy="830.4" rx="13.0" ry="15.9"/>
<ellipse cx="201.2" cy="844.4" rx="8.7" ry="7.2"/>
<ellipse cx="221" cy="818.7" rx="10.2" ry="8.7"/>
<ellipse cx="218.7" cy="844.4" rx="8.7" ry="10.9"/>
<ellipse cx="235" cy="837.4" rx="8.7" ry="11.6"/>
<ellipse cx="238.6" cy="808.2" rx="7.2" ry="7.2"/>
<ellipse cx="272" cy="788" rx="17.4" ry="15.9"/>
<ellipse cx="251" cy="788" rx="10.2" ry="10.2"/>
<ellipse cx="284.9" cy="790.4" rx="7.2" ry="8.7"/>
<ellipse cx="262.7" cy="804.4" rx="11.6" ry="7.2"/>
<ellipse cx="241.7" cy="810.2" rx="8.7" ry="8.7"/>
<ellipse cx="234.7" cy="799.7" rx="5.8" ry="5.8"/>
<ellipse cx="252.2" cy="823.1" rx="10.2" ry="11.6"/>
<ellipse cx="237" cy="831.2" rx="7.2" ry="7.2"/>
<ellipse cx="234.7" cy="844" rx="8.7" ry="10.2"/>
<ellipse cx="252.2" cy="840.6" rx="10.2" ry="8.7"/>
<ellipse cx="282.6" cy="809" rx="7.2" ry="8.7"/>
<ellipse cx="284.9" cy="819.6" rx="5.8" ry="7.2"/>
<ellipse cx="265" cy="820.7" rx="7.2" ry="8.7"/>
</g>
<path d="M29.2 790.5C31.1 787.1 32.9 785.3 36.2 784.7C39.5 784.1 44.5 786.0 49.0 787.0C53.5 788.0 58.5 789.3 63.0 790.5C67.5 791.7 70.7 793.2 75.9 794.0C81.1 794.8 85.8 795.2 94.0 795.2C102.2 795.2 113.2 794.4 125.0 794.0C136.8 793.6 155.4 793.5 165.0 793.0C174.6 792.5 176.7 792.2 182.5 791.3C188.3 790.4 194.2 788.3 200.0 787.8C205.8 787.3 213.1 788.1 217.6 788.4C222.1 788.7 224.0 789.9 226.9 789.5C229.8 789.1 231.6 788.0 235.0 786.0C238.4 784.0 242.9 780.1 247.5 777.5C252.1 774.9 257.4 772.0 262.7 770.5C267.9 769.0 274.3 767.8 279.0 768.2C283.7 768.6 287.6 770.3 290.7 772.8C293.8 775.3 296.1 779.3 297.7 783.4C299.2 787.5 300.0 792.5 300.0 797.4C300.0 802.3 299.1 807.9 297.7 812.6C296.3 817.3 294.4 820.9 291.9 825.4C289.4 829.9 286.1 835.1 282.6 839.4C279.1 843.7 275.8 848.2 270.9 851.1C266.0 854.0 260.2 855.5 253.4 857.0C246.6 858.5 236.9 859.1 230.0 859.9C223.1 860.6 221.7 860.7 211.7 861.5C201.7 862.3 184.4 864.2 170.0 864.5C155.6 864.8 138.3 864.1 125.0 863.5C111.7 862.9 102.7 862.5 90.0 860.6C77.3 858.8 59.9 854.9 49.0 852.4C38.1 849.9 29.6 848.7 24.5 845.4C19.4 842.1 20.0 838.9 18.7 832.6C17.4 826.3 15.9 812.0 16.9 807.4C17.9 802.8 22.4 807.9 24.5 805.1C26.6 802.3 27.2 793.9 29.2 790.5Z" fill="none" stroke="#6e2f95" stroke-width="2.2" filter="url(#bl2)"/>
<rect x="0" y="740" width="320" height="267" filter="url(#texd)" opacity="0.6"/>
<rect x="0" y="740" width="320" height="267" filter="url(#texw)" opacity="0.22"/>
</g>
<path d="M29.1 919.0C31.6 916.1 36.7 916.3 40.2 916.7C43.7 917.1 47.1 920.1 50.0 921.5C52.9 922.9 53.3 924.4 57.7 924.9C62.1 925.4 69.7 924.5 76.4 924.3C83.1 924.1 92.0 924.0 98.0 923.7C104.0 923.5 107.2 923.8 112.5 922.8C117.8 921.8 124.2 919.2 130.0 917.5C135.8 915.8 140.9 914.0 147.6 912.8C154.3 911.6 161.4 910.4 170.0 910.2C178.6 910.0 190.8 910.7 199.2 911.4C207.6 912.1 214.2 913.7 220.2 914.3C226.2 914.9 230.8 916.0 235.4 914.9C240.1 913.8 244.1 909.8 248.1 907.5C252.1 905.2 254.9 902.5 259.1 901.0C263.3 899.5 268.6 898.8 273.3 898.8C278.1 898.8 283.6 899.5 287.6 901.0C291.6 902.5 295.0 904.8 297.4 907.5C299.8 910.2 301.2 913.6 301.8 917.4C302.4 921.2 301.6 926.5 300.7 930.5C299.8 934.5 298.1 938.0 296.3 941.5C294.5 945.0 292.2 948.0 289.7 951.3C287.1 954.6 284.3 957.9 281.0 961.2C277.7 964.5 274.0 968.3 270.0 971.0C266.0 973.7 261.6 975.6 256.9 977.6C252.2 979.6 245.4 981.9 241.6 983.1C237.8 984.3 240.3 983.9 234.2 985.0C228.1 986.1 215.7 988.5 205.0 989.6C194.3 990.7 182.5 991.4 170.0 991.5C157.5 991.6 142.5 990.8 130.0 990.5C117.5 990.2 107.8 990.4 95.0 989.8C82.2 989.2 64.1 987.7 53.0 986.8C41.9 985.9 33.2 986.3 28.5 984.4C23.8 982.5 25.8 979.0 25.0 975.1C24.2 971.2 24.3 965.6 23.8 961.1C23.3 956.6 21.9 952.7 22.1 948.2C22.3 943.7 23.8 939.1 25.0 934.2C26.2 929.3 26.6 921.9 29.1 919.0Z" fill="#7c3594"/>
<g clip-path="url(#c2)">
<g filter="url(#blob)" fill="#4e2a8c" stroke="#8c4aa4" stroke-width="1.1">
<ellipse cx="29.7" cy="948.2" rx="11.6" ry="15.9"/>
<ellipse cx="33.2" cy="969.2" rx="10.2" ry="11.6"/>
<ellipse cx="60" cy="947" rx="13.0" ry="13.0"/>
<ellipse cx="60" cy="961" rx="11.6" ry="13.0"/>
<ellipse cx="44.9" cy="959.9" rx="7.2" ry="11.6"/>
<ellipse cx="81" cy="935.4" rx="10.2" ry="8.7"/>
<ellipse cx="81" cy="965.7" rx="15.9" ry="15.9"/>
<ellipse cx="90.4" cy="949.4" rx="8.7" ry="10.2"/>
<ellipse cx="83.4" cy="977.4" rx="8.7" ry="7.2"/>
<ellipse cx="51.9" cy="975" rx="7.2" ry="5.8"/>
<ellipse cx="103.2" cy="936.2" rx="8.7" ry="10.2"/>
<ellipse cx="139.4" cy="929.2" rx="13.8" ry="13.0"/>
<ellipse cx="163.9" cy="929.2" rx="15.2" ry="17.4"/>
<ellipse cx="130" cy="946.7" rx="11.6" ry="13.0"/>
<ellipse cx="100.8" cy="967.7" rx="8.7" ry="11.6"/>
<ellipse cx="118.4" cy="972.4" rx="13.0" ry="17.4"/>
<ellipse cx="134.7" cy="972.4" rx="8.7" ry="10.2"/>
<ellipse cx="152.2" cy="954.9" rx="11.6" ry="11.6"/>
<ellipse cx="162.7" cy="970" rx="13.0" ry="20.3"/>
<ellipse cx="144" cy="979.4" rx="7.2" ry="7.2"/>
<ellipse cx="186.4" cy="930" rx="15.2" ry="17.4"/>
<ellipse cx="206.2" cy="925.4" rx="7.2" ry="8.7"/>
<ellipse cx="177" cy="952.2" rx="10.2" ry="14.5"/>
<ellipse cx="195.7" cy="949.9" rx="11.6" ry="14.5"/>
<ellipse cx="179.3" cy="974.4" rx="10.2" ry="13.0"/>
<ellipse cx="202.7" cy="972.1" rx="13.0" ry="17.4"/>
<ellipse cx="219" cy="958" rx="10.2" ry="13.0"/>
<ellipse cx="219" cy="972" rx="7.2" ry="7.2"/>
<ellipse cx="224.9" cy="944" rx="8.7" ry="7.2"/>
<ellipse cx="242.4" cy="939.4" rx="8.7" ry="11.6"/>
<ellipse cx="242.4" cy="958" rx="13.0" ry="17.4"/>
<ellipse cx="243.6" cy="920.7" rx="7.2" ry="7.2"/>
<ellipse cx="262.4" cy="914.1" rx="11.6" ry="11.6"/>
<ellipse cx="281" cy="920.7" rx="13.0" ry="17.4"/>
<ellipse cx="295.2" cy="916.3" rx="5.8" ry="8.7"/>
<ellipse cx="243.8" cy="920.7" rx="7.2" ry="8.7"/>
<ellipse cx="258" cy="933.8" rx="8.7" ry="8.7"/>
<ellipse cx="270" cy="941.5" rx="17.4" ry="14.5"/>
<ellipse cx="241.6" cy="939.3" rx="8.7" ry="11.6"/>
<ellipse cx="241.6" cy="955.7" rx="8.7" ry="13.0"/>
<ellipse cx="259.1" cy="953.5" rx="11.6" ry="14.5"/>
<ellipse cx="288.6" cy="937.1" rx="5.8" ry="5.8"/>
<ellipse cx="248.1" cy="966.6" rx="7.2" ry="7.2"/>
</g>
<path d="M29.1 919.0C31.6 916.1 36.7 916.3 40.2 916.7C43.7 917.1 47.1 920.1 50.0 921.5C52.9 922.9 53.3 924.4 57.7 924.9C62.1 925.4 69.7 924.5 76.4 924.3C83.1 924.1 92.0 924.0 98.0 923.7C104.0 923.5 107.2 923.8 112.5 922.8C117.8 921.8 124.2 919.2 130.0 917.5C135.8 915.8 140.9 914.0 147.6 912.8C154.3 911.6 161.4 910.4 170.0 910.2C178.6 910.0 190.8 910.7 199.2 911.4C207.6 912.1 214.2 913.7 220.2 914.3C226.2 914.9 230.8 916.0 235.4 914.9C240.1 913.8 244.1 909.8 248.1 907.5C252.1 905.2 254.9 902.5 259.1 901.0C263.3 899.5 268.6 898.8 273.3 898.8C278.1 898.8 283.6 899.5 287.6 901.0C291.6 902.5 295.0 904.8 297.4 907.5C299.8 910.2 301.2 913.6 301.8 917.4C302.4 921.2 301.6 926.5 300.7 930.5C299.8 934.5 298.1 938.0 296.3 941.5C294.5 945.0 292.2 948.0 289.7 951.3C287.1 954.6 284.3 957.9 281.0 961.2C277.7 964.5 274.0 968.3 270.0 971.0C266.0 973.7 261.6 975.6 256.9 977.6C252.2 979.6 245.4 981.9 241.6 983.1C237.8 984.3 240.3 983.9 234.2 985.0C228.1 986.1 215.7 988.5 205.0 989.6C194.3 990.7 182.5 991.4 170.0 991.5C157.5 991.6 142.5 990.8 130.0 990.5C117.5 990.2 107.8 990.4 95.0 989.8C82.2 989.2 64.1 987.7 53.0 986.8C41.9 985.9 33.2 986.3 28.5 984.4C23.8 982.5 25.8 979.0 25.0 975.1C24.2 971.2 24.3 965.6 23.8 961.1C23.3 956.6 21.9 952.7 22.1 948.2C22.3 943.7 23.8 939.1 25.0 934.2C26.2 929.3 26.6 921.9 29.1 919.0Z" fill="none" stroke="#6e2f95" stroke-width="2.2" filter="url(#bl2)"/>
<rect x="0" y="740" width="320" height="267" filter="url(#texd)" opacity="0.6"/>
<rect x="0" y="740" width="320" height="267" filter="url(#texw)" opacity="0.22"/>
</g>
<g clip-path="url(#c2)"><ellipse cx="43" cy="929" rx="14" ry="8" fill="#a55aa8" opacity="0.5" filter="url(#bl)"/></g>
<path d="M42 917.5C46 917.8 50 920 53.5 923C56 925.5 58 928 58.5 930C56 929.8 53.5 928.2 51 926.2C48 923.8 45 921 42.5 919.2Z" fill="#fff" filter="url(#bl3)"/>
<g fill="none" stroke="#fff" stroke-linecap="round" filter="url(#bl3)">
<path d="M26 804.8 L29 808 L32 812 L34 815.5" stroke-width="1.3"/>
<path d="M71.5 807 L72.5 811 L72 815 L71.3 818" stroke-width="1.2"/>
<path d="M87.5 834 L88 838 L87.5 842" stroke-width="0.9"/>
<path d="M229 803 L231 806 L233 809" stroke-width="1.0"/>
<path d="M254 784 L257 790 L260 795 L264 799" stroke-width="0.7"/>
<path d="M262 807 L268 810 L274 814 L280 817" stroke-width="0.7"/>
<path d="M268 832 L270 838 L272 845" stroke-width="0.8"/>
<path d="M278 815 L282 820 L286 825" stroke-width="0.6"/>
<path d="M171.7 911.7 L173.5 925 L174.6 939.7" stroke-width="1.1"/>
<path d="M162.3 945.5 L166 952 L168.8 958.4 L171 966 L172.8 974.7 L174 986.4" stroke-width="1.1"/>
<path d="M116 947 L118.5 950 L120 953" stroke-width="1.6"/>
<path d="M215 925.5 L218 924.5 L221 923.5" stroke-width="1.1"/>
<path d="M229.5 969 L231 966 L233 963.5" stroke-width="1.2"/>
<path d="M46.5 918 L52 921 L57 924" stroke-width="2.2"/>
<path d="M66 941 L68 947 L68.5 953" stroke-width="0.7"/>
<path d="M55 975 L56 978 L57 980" stroke-width="0.9"/>
<path d="M154 925 L158 922 L162 920" stroke-width="0.6"/>
</g>
<text x="164" y="764" font-size="13.6" font-style="italic" fill="#1a1a1a" text-anchor="middle">Ripk3<tspan font-size="8.4" dy="-5.5">WT/WT</tspan></text>
<text x="158.7" y="901" font-size="13.6" font-style="italic" fill="#1a1a1a" text-anchor="middle">Ripk3<tspan font-size="8.4" dy="-4">-/-</tspan></text>
<path d="M271.5 859.8H305" stroke="#444" stroke-width="1"/>
<text x="283" y="871.5" font-size="11" text-anchor="middle" font-weight="normal" font-style="normal" fill="#1a1a1a" >1000 µm</text>
<path d="M268.5 990.5H306" stroke="#444" stroke-width="1"/>
<text x="283" y="1004" font-size="11" text-anchor="middle" font-weight="normal" font-style="normal" fill="#1a1a1a" >1000 µm</text>
</svg></body></html>
